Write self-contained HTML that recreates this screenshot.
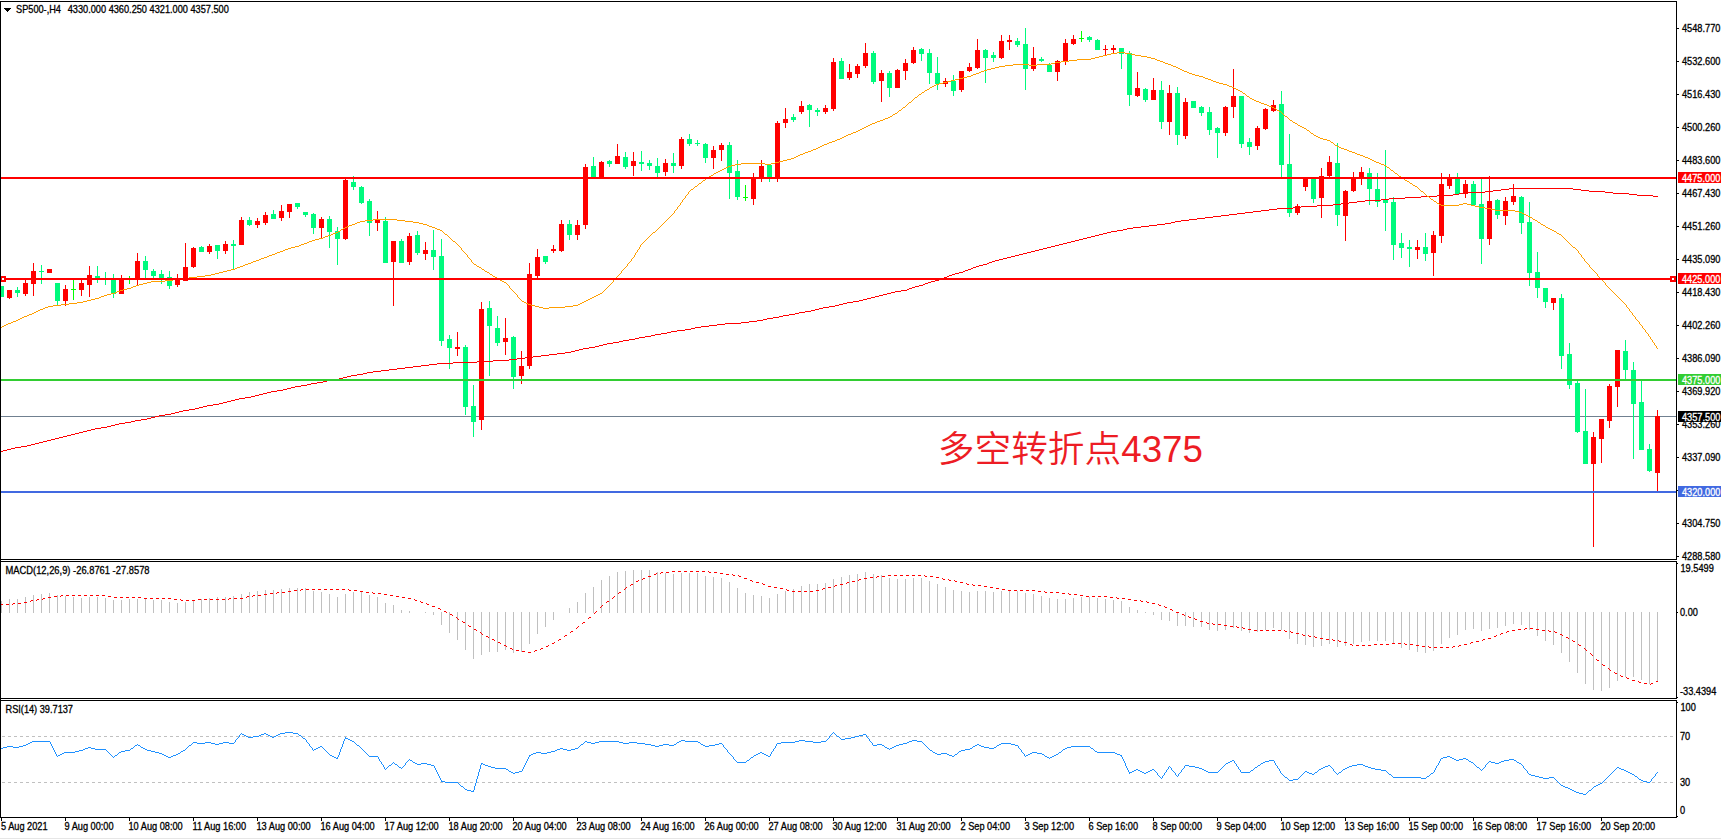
<!DOCTYPE html>
<html lang="zh"><head><meta charset="utf-8"><title>SP500-,H4</title>
<style>html,body{margin:0;padding:0;background:#fff;overflow:hidden}svg{display:block}text{font-family:"Liberation Sans","Noto Sans CJK SC",sans-serif;font-size:10.2px;fill:#000;stroke:#000;stroke-width:.3px}.w{fill:#fff;stroke:#fff}.cn{font-family:"Liberation Sans","Noto Sans CJK SC",sans-serif;font-size:36.7px;font-weight:350;fill:#ed1c24;stroke:none}</style></head><body>
<svg width="1721" height="840" viewBox="0 0 1721 840">
<rect width="1721" height="840" fill="#fff"/>
<g shape-rendering="crispEdges">
<rect x="1" y="416" width="1675" height="1" fill="#708090"/>
<rect x="1" y="286" width="1" height="11" fill="#00fa7d"/>
<rect x="1" y="286" width="3" height="11" fill="#00fa7d"/>
<rect x="9" y="290" width="1" height="9" fill="#ff0000"/>
<rect x="7" y="290" width="5" height="8" fill="#ff0000"/>
<rect x="17" y="287" width="1" height="10" fill="#00fa7d"/>
<rect x="15" y="290" width="5" height="3" fill="#00fa7d"/>
<rect x="25" y="280" width="1" height="16" fill="#ff0000"/>
<rect x="23" y="283" width="5" height="11" fill="#ff0000"/>
<rect x="33" y="263" width="1" height="33" fill="#ff0000"/>
<rect x="31" y="271" width="5" height="13" fill="#ff0000"/>
<rect x="41" y="265" width="1" height="19" fill="#00fa7d"/>
<rect x="39" y="271" width="5" height="1" fill="#00fa7d"/>
<rect x="49" y="269" width="1" height="4" fill="#ff0000"/>
<rect x="47" y="269" width="5" height="4" fill="#ff0000"/>
<rect x="57" y="283" width="1" height="22" fill="#00fa7d"/>
<rect x="55" y="283" width="5" height="18" fill="#00fa7d"/>
<rect x="65" y="285" width="1" height="21" fill="#ff0000"/>
<rect x="63" y="289" width="5" height="12" fill="#ff0000"/>
<rect x="73" y="280" width="1" height="20" fill="#00ff00"/>
<rect x="71" y="289" width="5" height="1" fill="#00ff00"/>
<rect x="81" y="280" width="1" height="16" fill="#ff0000"/>
<rect x="79" y="283" width="5" height="7" fill="#ff0000"/>
<rect x="89" y="266" width="1" height="31" fill="#ff0000"/>
<rect x="87" y="275" width="5" height="10" fill="#ff0000"/>
<rect x="97" y="266" width="1" height="17" fill="#00fa7d"/>
<rect x="95" y="276" width="5" height="4" fill="#00fa7d"/>
<rect x="105" y="272" width="1" height="13" fill="#00fa7d"/>
<rect x="103" y="278" width="5" height="1" fill="#00fa7d"/>
<rect x="113" y="274" width="1" height="24" fill="#00fa7d"/>
<rect x="111" y="278" width="5" height="16" fill="#00fa7d"/>
<rect x="121" y="275" width="1" height="19" fill="#ff0000"/>
<rect x="119" y="278" width="5" height="16" fill="#ff0000"/>
<rect x="129" y="276" width="1" height="8" fill="#00ff00"/>
<rect x="127" y="279" width="5" height="1" fill="#00ff00"/>
<rect x="137" y="253" width="1" height="32" fill="#ff0000"/>
<rect x="135" y="261" width="5" height="19" fill="#ff0000"/>
<rect x="145" y="256" width="1" height="22" fill="#00fa7d"/>
<rect x="143" y="261" width="5" height="9" fill="#00fa7d"/>
<rect x="153" y="269" width="1" height="9" fill="#00fa7d"/>
<rect x="151" y="271" width="5" height="5" fill="#00fa7d"/>
<rect x="161" y="270" width="1" height="14" fill="#00fa7d"/>
<rect x="159" y="274" width="5" height="4" fill="#00fa7d"/>
<rect x="169" y="271" width="1" height="18" fill="#00fa7d"/>
<rect x="167" y="277" width="5" height="9" fill="#00fa7d"/>
<rect x="177" y="274" width="1" height="13" fill="#ff0000"/>
<rect x="175" y="280" width="5" height="5" fill="#ff0000"/>
<rect x="185" y="243" width="1" height="38" fill="#ff0000"/>
<rect x="183" y="267" width="5" height="14" fill="#ff0000"/>
<rect x="193" y="247" width="1" height="21" fill="#ff0000"/>
<rect x="191" y="248" width="5" height="19" fill="#ff0000"/>
<rect x="201" y="246" width="1" height="6" fill="#00fa7d"/>
<rect x="199" y="247" width="5" height="5" fill="#00fa7d"/>
<rect x="209" y="244" width="1" height="10" fill="#ff0000"/>
<rect x="207" y="246" width="5" height="6" fill="#ff0000"/>
<rect x="217" y="245" width="1" height="14" fill="#00fa7d"/>
<rect x="215" y="245" width="5" height="6" fill="#00fa7d"/>
<rect x="225" y="241" width="1" height="13" fill="#ff0000"/>
<rect x="223" y="244" width="5" height="7" fill="#ff0000"/>
<rect x="233" y="240" width="1" height="29" fill="#00fa7d"/>
<rect x="231" y="244" width="5" height="2" fill="#00fa7d"/>
<rect x="241" y="217" width="1" height="28" fill="#ff0000"/>
<rect x="239" y="220" width="5" height="25" fill="#ff0000"/>
<rect x="249" y="217" width="1" height="9" fill="#00fa7d"/>
<rect x="247" y="220" width="5" height="5" fill="#00fa7d"/>
<rect x="257" y="218" width="1" height="10" fill="#ff0000"/>
<rect x="255" y="221" width="5" height="4" fill="#ff0000"/>
<rect x="265" y="212" width="1" height="13" fill="#ff0000"/>
<rect x="263" y="215" width="5" height="8" fill="#ff0000"/>
<rect x="273" y="210" width="1" height="9" fill="#00fa7d"/>
<rect x="271" y="214" width="5" height="5" fill="#00fa7d"/>
<rect x="281" y="205" width="1" height="16" fill="#ff0000"/>
<rect x="279" y="211" width="5" height="7" fill="#ff0000"/>
<rect x="289" y="204" width="1" height="14" fill="#ff0000"/>
<rect x="287" y="204" width="5" height="8" fill="#ff0000"/>
<rect x="297" y="203" width="1" height="6" fill="#00fa7d"/>
<rect x="295" y="203" width="5" height="4" fill="#00fa7d"/>
<rect x="305" y="212" width="1" height="5" fill="#00fa7d"/>
<rect x="303" y="212" width="5" height="3" fill="#00fa7d"/>
<rect x="313" y="213" width="1" height="21" fill="#00fa7d"/>
<rect x="311" y="214" width="5" height="14" fill="#00fa7d"/>
<rect x="321" y="217" width="1" height="22" fill="#ff0000"/>
<rect x="319" y="219" width="5" height="9" fill="#ff0000"/>
<rect x="329" y="216" width="1" height="32" fill="#00fa7d"/>
<rect x="327" y="219" width="5" height="13" fill="#00fa7d"/>
<rect x="337" y="227" width="1" height="38" fill="#00fa7d"/>
<rect x="335" y="231" width="5" height="8" fill="#00fa7d"/>
<rect x="345" y="179" width="1" height="61" fill="#ff0000"/>
<rect x="343" y="180" width="5" height="59" fill="#ff0000"/>
<rect x="353" y="176" width="1" height="14" fill="#00fa7d"/>
<rect x="351" y="182" width="5" height="5" fill="#00fa7d"/>
<rect x="361" y="186" width="1" height="18" fill="#00fa7d"/>
<rect x="359" y="187" width="5" height="16" fill="#00fa7d"/>
<rect x="369" y="199" width="1" height="37" fill="#00fa7d"/>
<rect x="367" y="201" width="5" height="22" fill="#00fa7d"/>
<rect x="377" y="211" width="1" height="20" fill="#ff0000"/>
<rect x="375" y="220" width="5" height="3" fill="#ff0000"/>
<rect x="385" y="217" width="1" height="46" fill="#00fa7d"/>
<rect x="383" y="221" width="5" height="42" fill="#00fa7d"/>
<rect x="393" y="241" width="1" height="65" fill="#ff0000"/>
<rect x="391" y="241" width="5" height="21" fill="#ff0000"/>
<rect x="401" y="239" width="1" height="24" fill="#00fa7d"/>
<rect x="399" y="241" width="5" height="22" fill="#00fa7d"/>
<rect x="409" y="233" width="1" height="32" fill="#ff0000"/>
<rect x="407" y="236" width="5" height="26" fill="#ff0000"/>
<rect x="417" y="231" width="1" height="24" fill="#00fa7d"/>
<rect x="415" y="235" width="5" height="18" fill="#00fa7d"/>
<rect x="425" y="242" width="1" height="18" fill="#ff0000"/>
<rect x="423" y="250" width="5" height="4" fill="#ff0000"/>
<rect x="433" y="230" width="1" height="40" fill="#00fa7d"/>
<rect x="431" y="250" width="5" height="7" fill="#00fa7d"/>
<rect x="441" y="239" width="1" height="107" fill="#00fa7d"/>
<rect x="439" y="256" width="5" height="85" fill="#00fa7d"/>
<rect x="449" y="335" width="1" height="34" fill="#00fa7d"/>
<rect x="447" y="339" width="5" height="9" fill="#00fa7d"/>
<rect x="457" y="332" width="1" height="24" fill="#ff0000"/>
<rect x="455" y="347" width="5" height="2" fill="#ff0000"/>
<rect x="465" y="345" width="1" height="70" fill="#00fa7d"/>
<rect x="463" y="347" width="5" height="60" fill="#00fa7d"/>
<rect x="473" y="385" width="1" height="52" fill="#00fa7d"/>
<rect x="471" y="406" width="5" height="16" fill="#00fa7d"/>
<rect x="481" y="302" width="1" height="128" fill="#ff0000"/>
<rect x="479" y="309" width="5" height="111" fill="#ff0000"/>
<rect x="489" y="301" width="1" height="75" fill="#00fa7d"/>
<rect x="487" y="308" width="5" height="18" fill="#00fa7d"/>
<rect x="497" y="316" width="1" height="30" fill="#00fa7d"/>
<rect x="495" y="328" width="5" height="15" fill="#00fa7d"/>
<rect x="505" y="318" width="1" height="37" fill="#ff0000"/>
<rect x="503" y="338" width="5" height="4" fill="#ff0000"/>
<rect x="513" y="336" width="1" height="53" fill="#00fa7d"/>
<rect x="511" y="337" width="5" height="40" fill="#00fa7d"/>
<rect x="521" y="351" width="1" height="33" fill="#ff0000"/>
<rect x="519" y="366" width="5" height="10" fill="#ff0000"/>
<rect x="529" y="263" width="1" height="106" fill="#ff0000"/>
<rect x="527" y="274" width="5" height="92" fill="#ff0000"/>
<rect x="537" y="249" width="1" height="29" fill="#ff0000"/>
<rect x="535" y="257" width="5" height="19" fill="#ff0000"/>
<rect x="545" y="256" width="1" height="8" fill="#00fa7d"/>
<rect x="543" y="256" width="5" height="6" fill="#00fa7d"/>
<rect x="553" y="245" width="1" height="8" fill="#ff0000"/>
<rect x="551" y="249" width="5" height="2" fill="#ff0000"/>
<rect x="561" y="220" width="1" height="32" fill="#ff0000"/>
<rect x="559" y="224" width="5" height="27" fill="#ff0000"/>
<rect x="569" y="220" width="1" height="20" fill="#00fa7d"/>
<rect x="567" y="224" width="5" height="11" fill="#00fa7d"/>
<rect x="577" y="220" width="1" height="20" fill="#ff0000"/>
<rect x="575" y="225" width="5" height="10" fill="#ff0000"/>
<rect x="585" y="164" width="1" height="65" fill="#ff0000"/>
<rect x="583" y="167" width="5" height="58" fill="#ff0000"/>
<rect x="593" y="157" width="1" height="20" fill="#00fa7d"/>
<rect x="591" y="166" width="5" height="11" fill="#00fa7d"/>
<rect x="601" y="161" width="1" height="17" fill="#ff0000"/>
<rect x="599" y="162" width="5" height="15" fill="#ff0000"/>
<rect x="609" y="160" width="1" height="7" fill="#00fa7d"/>
<rect x="607" y="161" width="5" height="3" fill="#00fa7d"/>
<rect x="617" y="144" width="1" height="20" fill="#ff0000"/>
<rect x="615" y="156" width="5" height="8" fill="#ff0000"/>
<rect x="625" y="152" width="1" height="17" fill="#00fa7d"/>
<rect x="623" y="157" width="5" height="10" fill="#00fa7d"/>
<rect x="633" y="152" width="1" height="24" fill="#ff0000"/>
<rect x="631" y="161" width="5" height="5" fill="#ff0000"/>
<rect x="641" y="151" width="1" height="20" fill="#00fa7d"/>
<rect x="639" y="162" width="5" height="2" fill="#00fa7d"/>
<rect x="649" y="160" width="1" height="10" fill="#00fa7d"/>
<rect x="647" y="163" width="5" height="3" fill="#00fa7d"/>
<rect x="657" y="158" width="1" height="19" fill="#00fa7d"/>
<rect x="655" y="166" width="5" height="7" fill="#00fa7d"/>
<rect x="665" y="159" width="1" height="17" fill="#ff0000"/>
<rect x="663" y="163" width="5" height="9" fill="#ff0000"/>
<rect x="673" y="153" width="1" height="20" fill="#00fa7d"/>
<rect x="671" y="163" width="5" height="3" fill="#00fa7d"/>
<rect x="681" y="137" width="1" height="32" fill="#ff0000"/>
<rect x="679" y="139" width="5" height="27" fill="#ff0000"/>
<rect x="689" y="134" width="1" height="12" fill="#00fa7d"/>
<rect x="687" y="139" width="5" height="5" fill="#00fa7d"/>
<rect x="697" y="140" width="1" height="6" fill="#00fa7d"/>
<rect x="695" y="143" width="5" height="1" fill="#00fa7d"/>
<rect x="705" y="143" width="1" height="20" fill="#00fa7d"/>
<rect x="703" y="144" width="5" height="14" fill="#00fa7d"/>
<rect x="713" y="146" width="1" height="23" fill="#ff0000"/>
<rect x="711" y="150" width="5" height="8" fill="#ff0000"/>
<rect x="721" y="143" width="1" height="18" fill="#ff0000"/>
<rect x="719" y="145" width="5" height="5" fill="#ff0000"/>
<rect x="729" y="142" width="1" height="57" fill="#00fa7d"/>
<rect x="727" y="145" width="5" height="28" fill="#00fa7d"/>
<rect x="737" y="160" width="1" height="40" fill="#00fa7d"/>
<rect x="735" y="171" width="5" height="26" fill="#00fa7d"/>
<rect x="745" y="185" width="1" height="16" fill="#00ff00"/>
<rect x="743" y="197" width="5" height="1" fill="#00ff00"/>
<rect x="753" y="173" width="1" height="32" fill="#ff0000"/>
<rect x="751" y="179" width="5" height="20" fill="#ff0000"/>
<rect x="761" y="160" width="1" height="22" fill="#ff0000"/>
<rect x="759" y="166" width="5" height="11" fill="#ff0000"/>
<rect x="769" y="164" width="1" height="18" fill="#00fa7d"/>
<rect x="767" y="165" width="5" height="12" fill="#00fa7d"/>
<rect x="777" y="121" width="1" height="61" fill="#ff0000"/>
<rect x="775" y="123" width="5" height="54" fill="#ff0000"/>
<rect x="785" y="108" width="1" height="20" fill="#ff0000"/>
<rect x="783" y="119" width="5" height="4" fill="#ff0000"/>
<rect x="793" y="114" width="1" height="8" fill="#00fa7d"/>
<rect x="791" y="117" width="5" height="3" fill="#00fa7d"/>
<rect x="801" y="101" width="1" height="13" fill="#ff0000"/>
<rect x="799" y="106" width="5" height="6" fill="#ff0000"/>
<rect x="809" y="104" width="1" height="23" fill="#00fa7d"/>
<rect x="807" y="105" width="5" height="5" fill="#00fa7d"/>
<rect x="817" y="108" width="1" height="8" fill="#00fa7d"/>
<rect x="815" y="110" width="5" height="2" fill="#00fa7d"/>
<rect x="825" y="105" width="1" height="9" fill="#ff0000"/>
<rect x="823" y="108" width="5" height="4" fill="#ff0000"/>
<rect x="833" y="58" width="1" height="53" fill="#ff0000"/>
<rect x="831" y="62" width="5" height="47" fill="#ff0000"/>
<rect x="841" y="58" width="1" height="21" fill="#00fa7d"/>
<rect x="839" y="61" width="5" height="18" fill="#00fa7d"/>
<rect x="849" y="64" width="1" height="16" fill="#ff0000"/>
<rect x="847" y="72" width="5" height="6" fill="#ff0000"/>
<rect x="857" y="64" width="1" height="14" fill="#ff0000"/>
<rect x="855" y="66" width="5" height="8" fill="#ff0000"/>
<rect x="865" y="43" width="1" height="25" fill="#ff0000"/>
<rect x="863" y="53" width="5" height="13" fill="#ff0000"/>
<rect x="873" y="51" width="1" height="33" fill="#00fa7d"/>
<rect x="871" y="53" width="5" height="29" fill="#00fa7d"/>
<rect x="881" y="70" width="1" height="32" fill="#ff0000"/>
<rect x="879" y="73" width="5" height="8" fill="#ff0000"/>
<rect x="889" y="71" width="1" height="26" fill="#00fa7d"/>
<rect x="887" y="73" width="5" height="15" fill="#00fa7d"/>
<rect x="897" y="69" width="1" height="19" fill="#ff0000"/>
<rect x="895" y="70" width="5" height="18" fill="#ff0000"/>
<rect x="905" y="59" width="1" height="21" fill="#ff0000"/>
<rect x="903" y="63" width="5" height="8" fill="#ff0000"/>
<rect x="913" y="47" width="1" height="17" fill="#ff0000"/>
<rect x="911" y="50" width="5" height="13" fill="#ff0000"/>
<rect x="921" y="48" width="1" height="13" fill="#00fa7d"/>
<rect x="919" y="49" width="5" height="5" fill="#00fa7d"/>
<rect x="929" y="49" width="1" height="35" fill="#00fa7d"/>
<rect x="927" y="53" width="5" height="20" fill="#00fa7d"/>
<rect x="937" y="57" width="1" height="33" fill="#00fa7d"/>
<rect x="935" y="73" width="5" height="11" fill="#00fa7d"/>
<rect x="945" y="78" width="1" height="9" fill="#ff0000"/>
<rect x="943" y="81" width="5" height="3" fill="#ff0000"/>
<rect x="953" y="75" width="1" height="21" fill="#00fa7d"/>
<rect x="951" y="81" width="5" height="10" fill="#00fa7d"/>
<rect x="961" y="71" width="1" height="21" fill="#ff0000"/>
<rect x="959" y="71" width="5" height="19" fill="#ff0000"/>
<rect x="969" y="63" width="1" height="9" fill="#ff0000"/>
<rect x="967" y="67" width="5" height="4" fill="#ff0000"/>
<rect x="977" y="39" width="1" height="30" fill="#ff0000"/>
<rect x="975" y="50" width="5" height="18" fill="#ff0000"/>
<rect x="985" y="49" width="1" height="34" fill="#00fa7d"/>
<rect x="983" y="50" width="5" height="8" fill="#00fa7d"/>
<rect x="993" y="52" width="1" height="10" fill="#00fa7d"/>
<rect x="991" y="55" width="5" height="3" fill="#00fa7d"/>
<rect x="1001" y="35" width="1" height="24" fill="#ff0000"/>
<rect x="999" y="41" width="5" height="17" fill="#ff0000"/>
<rect x="1009" y="35" width="1" height="15" fill="#ff0000"/>
<rect x="1007" y="40" width="5" height="2" fill="#ff0000"/>
<rect x="1017" y="38" width="1" height="9" fill="#00fa7d"/>
<rect x="1015" y="41" width="5" height="4" fill="#00fa7d"/>
<rect x="1025" y="28" width="1" height="62" fill="#00fa7d"/>
<rect x="1023" y="44" width="5" height="25" fill="#00fa7d"/>
<rect x="1033" y="47" width="1" height="24" fill="#ff0000"/>
<rect x="1031" y="58" width="5" height="11" fill="#ff0000"/>
<rect x="1041" y="57" width="1" height="5" fill="#00fa7d"/>
<rect x="1039" y="59" width="5" height="2" fill="#00fa7d"/>
<rect x="1049" y="63" width="1" height="9" fill="#00fa7d"/>
<rect x="1047" y="65" width="5" height="7" fill="#00fa7d"/>
<rect x="1057" y="60" width="1" height="21" fill="#ff0000"/>
<rect x="1055" y="61" width="5" height="11" fill="#ff0000"/>
<rect x="1065" y="39" width="1" height="26" fill="#ff0000"/>
<rect x="1063" y="43" width="5" height="18" fill="#ff0000"/>
<rect x="1073" y="35" width="1" height="10" fill="#ff0000"/>
<rect x="1071" y="39" width="5" height="5" fill="#ff0000"/>
<rect x="1081" y="31" width="1" height="11" fill="#00ff00"/>
<rect x="1079" y="38" width="5" height="1" fill="#00ff00"/>
<rect x="1089" y="36" width="1" height="6" fill="#00fa7d"/>
<rect x="1087" y="37" width="5" height="3" fill="#00fa7d"/>
<rect x="1097" y="39" width="1" height="11" fill="#00fa7d"/>
<rect x="1095" y="40" width="5" height="10" fill="#00fa7d"/>
<rect x="1105" y="45" width="1" height="10" fill="#ff0000"/>
<rect x="1103" y="49" width="5" height="1" fill="#ff0000"/>
<rect x="1113" y="45" width="1" height="9" fill="#ff0000"/>
<rect x="1111" y="48" width="5" height="2" fill="#ff0000"/>
<rect x="1121" y="48" width="1" height="21" fill="#00fa7d"/>
<rect x="1119" y="48" width="5" height="6" fill="#00fa7d"/>
<rect x="1129" y="51" width="1" height="55" fill="#00fa7d"/>
<rect x="1127" y="53" width="5" height="42" fill="#00fa7d"/>
<rect x="1137" y="72" width="1" height="25" fill="#ff0000"/>
<rect x="1135" y="88" width="5" height="8" fill="#ff0000"/>
<rect x="1145" y="88" width="1" height="14" fill="#00fa7d"/>
<rect x="1143" y="89" width="5" height="11" fill="#00fa7d"/>
<rect x="1153" y="78" width="1" height="22" fill="#ff0000"/>
<rect x="1151" y="90" width="5" height="10" fill="#ff0000"/>
<rect x="1161" y="81" width="1" height="48" fill="#00fa7d"/>
<rect x="1159" y="90" width="5" height="32" fill="#00fa7d"/>
<rect x="1169" y="85" width="1" height="50" fill="#ff0000"/>
<rect x="1167" y="93" width="5" height="29" fill="#ff0000"/>
<rect x="1177" y="87" width="1" height="58" fill="#00fa7d"/>
<rect x="1175" y="93" width="5" height="42" fill="#00fa7d"/>
<rect x="1185" y="98" width="1" height="41" fill="#ff0000"/>
<rect x="1183" y="102" width="5" height="34" fill="#ff0000"/>
<rect x="1193" y="101" width="1" height="7" fill="#00fa7d"/>
<rect x="1191" y="101" width="5" height="7" fill="#00fa7d"/>
<rect x="1201" y="106" width="1" height="10" fill="#00fa7d"/>
<rect x="1199" y="107" width="5" height="6" fill="#00fa7d"/>
<rect x="1209" y="107" width="1" height="28" fill="#00fa7d"/>
<rect x="1207" y="112" width="5" height="18" fill="#00fa7d"/>
<rect x="1217" y="127" width="1" height="31" fill="#00fa7d"/>
<rect x="1215" y="128" width="5" height="5" fill="#00fa7d"/>
<rect x="1225" y="106" width="1" height="30" fill="#ff0000"/>
<rect x="1223" y="107" width="5" height="26" fill="#ff0000"/>
<rect x="1233" y="69" width="1" height="49" fill="#ff0000"/>
<rect x="1231" y="96" width="5" height="11" fill="#ff0000"/>
<rect x="1241" y="96" width="1" height="52" fill="#00fa7d"/>
<rect x="1239" y="96" width="5" height="48" fill="#00fa7d"/>
<rect x="1249" y="138" width="1" height="17" fill="#00fa7d"/>
<rect x="1247" y="142" width="5" height="5" fill="#00fa7d"/>
<rect x="1257" y="126" width="1" height="24" fill="#ff0000"/>
<rect x="1255" y="128" width="5" height="18" fill="#ff0000"/>
<rect x="1265" y="108" width="1" height="22" fill="#ff0000"/>
<rect x="1263" y="109" width="5" height="20" fill="#ff0000"/>
<rect x="1273" y="100" width="1" height="12" fill="#ff0000"/>
<rect x="1271" y="105" width="5" height="6" fill="#ff0000"/>
<rect x="1281" y="91" width="1" height="87" fill="#00fa7d"/>
<rect x="1279" y="104" width="5" height="61" fill="#00fa7d"/>
<rect x="1289" y="134" width="1" height="83" fill="#00fa7d"/>
<rect x="1287" y="164" width="5" height="49" fill="#00fa7d"/>
<rect x="1297" y="204" width="1" height="11" fill="#ff0000"/>
<rect x="1295" y="206" width="5" height="7" fill="#ff0000"/>
<rect x="1305" y="177" width="1" height="14" fill="#ff0000"/>
<rect x="1303" y="177" width="5" height="10" fill="#ff0000"/>
<rect x="1313" y="178" width="1" height="25" fill="#00fa7d"/>
<rect x="1311" y="178" width="5" height="21" fill="#00fa7d"/>
<rect x="1321" y="168" width="1" height="50" fill="#ff0000"/>
<rect x="1319" y="176" width="5" height="22" fill="#ff0000"/>
<rect x="1329" y="156" width="1" height="21" fill="#ff0000"/>
<rect x="1327" y="162" width="5" height="14" fill="#ff0000"/>
<rect x="1337" y="143" width="1" height="83" fill="#00fa7d"/>
<rect x="1335" y="163" width="5" height="52" fill="#00fa7d"/>
<rect x="1345" y="190" width="1" height="51" fill="#ff0000"/>
<rect x="1343" y="191" width="5" height="25" fill="#ff0000"/>
<rect x="1353" y="172" width="1" height="20" fill="#ff0000"/>
<rect x="1351" y="178" width="5" height="13" fill="#ff0000"/>
<rect x="1361" y="167" width="1" height="18" fill="#ff0000"/>
<rect x="1359" y="172" width="5" height="5" fill="#ff0000"/>
<rect x="1369" y="168" width="1" height="37" fill="#00fa7d"/>
<rect x="1367" y="173" width="5" height="16" fill="#00fa7d"/>
<rect x="1377" y="173" width="1" height="34" fill="#00fa7d"/>
<rect x="1375" y="189" width="5" height="13" fill="#00fa7d"/>
<rect x="1385" y="150" width="1" height="81" fill="#00fa7d"/>
<rect x="1383" y="199" width="5" height="4" fill="#00fa7d"/>
<rect x="1393" y="197" width="1" height="63" fill="#00fa7d"/>
<rect x="1391" y="202" width="5" height="43" fill="#00fa7d"/>
<rect x="1401" y="233" width="1" height="25" fill="#00fa7d"/>
<rect x="1399" y="243" width="5" height="5" fill="#00fa7d"/>
<rect x="1409" y="240" width="1" height="27" fill="#00fa7d"/>
<rect x="1407" y="247" width="5" height="2" fill="#00fa7d"/>
<rect x="1417" y="240" width="1" height="19" fill="#ff0000"/>
<rect x="1415" y="247" width="5" height="3" fill="#ff0000"/>
<rect x="1425" y="233" width="1" height="28" fill="#00fa7d"/>
<rect x="1423" y="247" width="5" height="7" fill="#00fa7d"/>
<rect x="1433" y="231" width="1" height="45" fill="#ff0000"/>
<rect x="1431" y="235" width="5" height="18" fill="#ff0000"/>
<rect x="1441" y="173" width="1" height="70" fill="#ff0000"/>
<rect x="1439" y="184" width="5" height="52" fill="#ff0000"/>
<rect x="1449" y="174" width="1" height="15" fill="#ff0000"/>
<rect x="1447" y="178" width="5" height="8" fill="#ff0000"/>
<rect x="1457" y="173" width="1" height="21" fill="#00fa7d"/>
<rect x="1455" y="178" width="5" height="16" fill="#00fa7d"/>
<rect x="1465" y="180" width="1" height="18" fill="#ff0000"/>
<rect x="1463" y="184" width="5" height="10" fill="#ff0000"/>
<rect x="1473" y="181" width="1" height="24" fill="#00fa7d"/>
<rect x="1471" y="184" width="5" height="21" fill="#00fa7d"/>
<rect x="1481" y="178" width="1" height="86" fill="#00fa7d"/>
<rect x="1479" y="204" width="5" height="35" fill="#00fa7d"/>
<rect x="1489" y="176" width="1" height="69" fill="#ff0000"/>
<rect x="1487" y="201" width="5" height="38" fill="#ff0000"/>
<rect x="1497" y="199" width="1" height="20" fill="#00fa7d"/>
<rect x="1495" y="200" width="5" height="15" fill="#00fa7d"/>
<rect x="1505" y="197" width="1" height="28" fill="#ff0000"/>
<rect x="1503" y="201" width="5" height="15" fill="#ff0000"/>
<rect x="1513" y="184" width="1" height="21" fill="#ff0000"/>
<rect x="1511" y="196" width="5" height="6" fill="#ff0000"/>
<rect x="1521" y="196" width="1" height="38" fill="#00fa7d"/>
<rect x="1519" y="197" width="5" height="26" fill="#00fa7d"/>
<rect x="1529" y="202" width="1" height="84" fill="#00fa7d"/>
<rect x="1527" y="222" width="5" height="51" fill="#00fa7d"/>
<rect x="1537" y="252" width="1" height="46" fill="#00fa7d"/>
<rect x="1535" y="272" width="5" height="16" fill="#00fa7d"/>
<rect x="1545" y="288" width="1" height="20" fill="#00fa7d"/>
<rect x="1543" y="288" width="5" height="14" fill="#00fa7d"/>
<rect x="1553" y="298" width="1" height="12" fill="#ff0000"/>
<rect x="1551" y="298" width="5" height="5" fill="#ff0000"/>
<rect x="1561" y="294" width="1" height="75" fill="#00fa7d"/>
<rect x="1559" y="298" width="5" height="58" fill="#00fa7d"/>
<rect x="1569" y="343" width="1" height="46" fill="#00fa7d"/>
<rect x="1567" y="354" width="5" height="31" fill="#00fa7d"/>
<rect x="1577" y="381" width="1" height="52" fill="#00fa7d"/>
<rect x="1575" y="383" width="5" height="49" fill="#00fa7d"/>
<rect x="1585" y="389" width="1" height="75" fill="#00fa7d"/>
<rect x="1583" y="431" width="5" height="33" fill="#00fa7d"/>
<rect x="1593" y="432" width="1" height="115" fill="#ff0000"/>
<rect x="1591" y="437" width="5" height="27" fill="#ff0000"/>
<rect x="1601" y="419" width="1" height="44" fill="#ff0000"/>
<rect x="1599" y="419" width="5" height="20" fill="#ff0000"/>
<rect x="1609" y="384" width="1" height="44" fill="#ff0000"/>
<rect x="1607" y="386" width="5" height="35" fill="#ff0000"/>
<rect x="1617" y="350" width="1" height="57" fill="#ff0000"/>
<rect x="1615" y="350" width="5" height="37" fill="#ff0000"/>
<rect x="1625" y="340" width="1" height="39" fill="#00fa7d"/>
<rect x="1623" y="351" width="5" height="19" fill="#00fa7d"/>
<rect x="1633" y="362" width="1" height="97" fill="#00fa7d"/>
<rect x="1631" y="370" width="5" height="34" fill="#00fa7d"/>
<rect x="1641" y="380" width="1" height="70" fill="#00fa7d"/>
<rect x="1639" y="402" width="5" height="48" fill="#00fa7d"/>
<rect x="1649" y="444" width="1" height="28" fill="#00fa7d"/>
<rect x="1647" y="449" width="5" height="22" fill="#00fa7d"/>
<rect x="1657" y="410" width="1" height="81" fill="#ff0000"/>
<rect x="1655" y="416" width="5" height="57" fill="#ff0000"/>
<path d="M1509 188.5h64M1501 189.5h8M1573 189.5h8M1493 190.5h8M1581 190.5h8M1485 191.5h8M1589 191.5h16M1463 192.5h22M1605 192.5h8M1459 193.5h4M1613 193.5h16M1453 194.5h6M1629 194.5h8M1437 195.5h16M1637 195.5h16M1421 196.5h16M1653 196.5h5M1405 197.5h16M1389 198.5h16M1381 199.5h8M1365 200.5h16M1357 201.5h8M1349 202.5h8M1341 203.5h8M1333 204.5h8M1317 205.5h16M1301 206.5h16M1293 207.5h8M1277 208.5h16M1269 209.5h8M1261 210.5h8M1253 211.5h8M1245 212.5h8M1237 213.5h8M1229 214.5h8M1221 215.5h8M1213 216.5h8M1205 217.5h8M1197 218.5h8M1189 219.5h8M1181 220.5h8M1175 221.5h6M1171 222.5h4M1165 223.5h6M1157 224.5h8M1149 225.5h8M1141 226.5h8M1133 227.5h8M1127 228.5h6M1123 229.5h4M1117 230.5h6M1111 231.5h6M1107 232.5h4M1103 233.5h4M1099 234.5h4M1095 235.5h4M1091 236.5h4M1087 237.5h4M1083 238.5h4M1079 239.5h4M1075 240.5h4M1071 241.5h4M1067 242.5h4M1063 243.5h4M1059 244.5h4M1055 245.5h4M1051 246.5h4M1047 247.5h4M1043 248.5h4M1039 249.5h4M1035 250.5h4M1031 251.5h4M1027 252.5h4M1023 253.5h4M1019 254.5h4M1015 255.5h4M1011 256.5h4M1007 257.5h4M1003 258.5h4M999 259.5h4M995 260.5h4M992 261.5h3M989 262.5h3M987 263.5h2M983 264.5h4M979 265.5h4M976 266.5h3M973 267.5h3M971 268.5h2M968 269.5h3M965 270.5h3M963 271.5h2M959 272.5h4M955 273.5h4M952 274.5h3M949 275.5h3M947 276.5h2M944 277.5h3M941 278.5h3M939 279.5h2M935 280.5h4M931 281.5h4M928 282.5h3M925 283.5h3M923 284.5h2M919 285.5h4M915 286.5h4M912 287.5h3M909 288.5h3M907 289.5h2M901 290.5h6M895 291.5h6M891 292.5h4M887 293.5h4M883 294.5h4M879 295.5h4M875 296.5h4M871 297.5h4M867 298.5h4M863 299.5h4M859 300.5h4M853 301.5h6M847 302.5h6M843 303.5h4M839 304.5h4M835 305.5h4M829 306.5h6M823 307.5h6M819 308.5h4M815 309.5h4M811 310.5h4M805 311.5h6M799 312.5h6M795 313.5h4M789 314.5h6M783 315.5h6M779 316.5h4M773 317.5h6M767 318.5h6M763 319.5h4M757 320.5h6M749 321.5h8M741 322.5h8M725 323.5h16M717 324.5h8M709 325.5h8M701 326.5h8M695 327.5h6M691 328.5h4M685 329.5h6M677 330.5h8M671 331.5h6M667 332.5h4M661 333.5h6M655 334.5h6M651 335.5h4M645 336.5h6M639 337.5h6M635 338.5h4M629 339.5h6M623 340.5h6M619 341.5h4M613 342.5h6M607 343.5h6M603 344.5h4M599 345.5h4M595 346.5h4M589 347.5h6M583 348.5h6M579 349.5h4M575 350.5h4M571 351.5h4M565 352.5h6M557 353.5h8M549 354.5h8M541 355.5h8M533 356.5h8M525 357.5h8M517 358.5h8M509 359.5h8M493 360.5h16M477 361.5h16M453 362.5h24M437 363.5h16M429 364.5h8M421 365.5h8M413 366.5h8M405 367.5h8M397 368.5h8M389 369.5h8M381 370.5h8M373 371.5h8M367 372.5h6M363 373.5h4M357 374.5h6M351 375.5h6M347 376.5h4M343 377.5h4M339 378.5h4M333 379.5h6M327 380.5h6M323 381.5h4M317 382.5h6M311 383.5h6M307 384.5h4M301 385.5h6M295 386.5h6M291 387.5h4M287 388.5h4M283 389.5h4M277 390.5h6M271 391.5h6M267 392.5h4M263 393.5h4M259 394.5h4M255 395.5h4M251 396.5h4M245 397.5h6M239 398.5h6M235 399.5h4M231 400.5h4M227 401.5h4M223 402.5h4M219 403.5h4M213 404.5h6M207 405.5h6M203 406.5h4M199 407.5h4M195 408.5h4M189 409.5h6M183 410.5h6M179 411.5h4M175 412.5h4M171 413.5h4M165 414.5h6M159 415.5h6M155 416.5h4M151 417.5h4M147 418.5h4M141 419.5h6M135 420.5h6M131 421.5h4M125 422.5h6M119 423.5h6M115 424.5h4M111 425.5h4M107 426.5h4M101 427.5h6M95 428.5h6M91 429.5h4M87 430.5h4M83 431.5h4M79 432.5h4M75 433.5h4M71 434.5h4M67 435.5h4M63 436.5h4M59 437.5h4M55 438.5h4M51 439.5h4M47 440.5h4M43 441.5h4M39 442.5h4M35 443.5h4M31 444.5h4M27 445.5h4M21 446.5h6M15 447.5h6M11 448.5h4M7 449.5h4M3 450.5h4M1 451.5h2" fill="none" stroke="#ff0000" stroke-width="1"/>
<path d="M1117 52.5h8M1111 53.5h6M1125 53.5h6M1107 54.5h4M1131 54.5h4M1103 55.5h4M1135 55.5h6M1099 56.5h4M1141 56.5h6M1095 57.5h4M1147 57.5h4M1091 58.5h4M1151 58.5h4M1077 59.5h14M1155 59.5h2M1069 60.5h8M1157 60.5h3M1061 61.5h8M1160 61.5h3M1055 62.5h6M1163 62.5h2M1051 63.5h4M1165 63.5h3M1013 64.5h16M1037 64.5h14M1168 64.5h3M1005 65.5h8M1029 65.5h8M1171 65.5h2M999 66.5h6M1173 66.5h3M995 67.5h4M1176 67.5h2M991 68.5h4M1178 68.5h2M987 69.5h4M1180 69.5h2M984 70.5h3M1182 70.5h2M981 71.5h3M1184 71.5h3M979 72.5h2M1187 72.5h2M976 73.5h3M1189 73.5h3M973 74.5h3M1192 74.5h3M971 75.5h2M1195 75.5h4M967 76.5h4M1199 76.5h4M963 77.5h4M1203 77.5h2M959 78.5h4M1205 78.5h3M955 79.5h4M1208 79.5h3M951 80.5h4M1211 80.5h2M947 81.5h4M1213 81.5h3M943 82.5h4M1216 82.5h3M939 83.5h4M1219 83.5h4M936 84.5h3M1223 84.5h4M934 85.5h2M1227 85.5h2M932 86.5h2M1229 86.5h3M930 87.5h2M1232 87.5h2M929 88.5h1M1234 88.5h2M927 89.5h2M1236 89.5h2M925 90.5h2M1238 90.5h2M924 91.5h1M1240 91.5h2M922 92.5h2M1242 92.5h1M921 93.5h1M1243 93.5h2M919 94.5h2M1245 94.5h1M918 95.5h1M1246 95.5h1M917 96.5h1M1247 96.5h2M915 97.5h2M1249 97.5h1M914 98.5h1M1250 98.5h2M913 99.5h1M1252 99.5h2M912 100.5h1M1254 100.5h2M911 101.5h1M1256 101.5h3M909 102.5h2M1259 102.5h2M908 103.5h1M1261 103.5h3M907 104.5h1M1264 104.5h3M906 105.5h1M1267 105.5h2M905 106.5h1M1269 106.5h3M903 107.5h2M1272 107.5h2M902 108.5h1M1274 108.5h2M901 109.5h1M1276 109.5h1M899 110.5h2M1277 110.5h2M898 111.5h1M1279 111.5h2M897 112.5h1M1281 112.5h1M895 113.5h2M1282 113.5h1M893 114.5h2M1283 114.5h1M892 115.5h1M1284 115.5h1M890 116.5h2M1285 116.5h2M888 117.5h2M1287 117.5h1M885 118.5h3M1288 118.5h1M883 119.5h2M1289 119.5h1M880 120.5h3M1290 120.5h2M877 121.5h3M1292 121.5h1M875 122.5h2M1293 122.5h2M872 123.5h3M1295 123.5h2M870 124.5h2M1297 124.5h1M868 125.5h2M1298 125.5h2M866 126.5h2M1300 126.5h2M864 127.5h2M1302 127.5h2M862 128.5h2M1304 128.5h2M860 129.5h2M1306 129.5h1M858 130.5h2M1307 130.5h2M856 131.5h2M1309 131.5h1M853 132.5h3M1310 132.5h1M851 133.5h2M1311 133.5h2M848 134.5h3M1313 134.5h1M846 135.5h2M1314 135.5h2M844 136.5h2M1316 136.5h2M842 137.5h2M1318 137.5h2M840 138.5h2M1320 138.5h3M837 139.5h3M1323 139.5h4M835 140.5h2M1327 140.5h3M832 141.5h3M1330 141.5h1M829 142.5h3M1331 142.5h2M827 143.5h2M1333 143.5h1M824 144.5h3M1334 144.5h1M822 145.5h2M1335 145.5h2M820 146.5h2M1337 146.5h2M818 147.5h2M1339 147.5h2M816 148.5h2M1341 148.5h3M813 149.5h3M1344 149.5h3M811 150.5h2M1347 150.5h2M808 151.5h3M1349 151.5h3M805 152.5h3M1352 152.5h3M803 153.5h2M1355 153.5h2M800 154.5h3M1357 154.5h3M798 155.5h2M1360 155.5h3M796 156.5h2M1363 156.5h2M794 157.5h2M1365 157.5h3M791 158.5h3M1368 158.5h2M787 159.5h4M1370 159.5h2M783 160.5h4M1372 160.5h2M779 161.5h4M1374 161.5h2M775 162.5h4M1376 162.5h3M741 163.5h24M771 163.5h4M1379 163.5h2M735 164.5h6M765 164.5h6M1381 164.5h3M731 165.5h4M1384 165.5h2M728 166.5h3M1386 166.5h1M726 167.5h2M1387 167.5h2M724 168.5h2M1389 168.5h1M722 169.5h2M1390 169.5h1M720 170.5h2M1391 170.5h2M718 171.5h2M1393 171.5h1M716 172.5h2M1394 172.5h1M714 173.5h2M1395 173.5h2M713 174.5h1M1397 174.5h1M711 175.5h2M1398 175.5h1M709 176.5h2M1399 176.5h2M708 177.5h1M1401 177.5h1M706 178.5h2M1402 178.5h2M705 179.5h1M1404 179.5h1M703 180.5h2M1405 180.5h2M702 181.5h1M1407 181.5h2M701 182.5h1M1409 182.5h1M699 183.5h2M1410 183.5h2M698 184.5h1M1412 184.5h1M697 185.5h1M1413 185.5h2M695 186.5h2M1415 186.5h2M694 187.5h1M1417 187.5h1M693 188.5h1M1418 188.5h1M691 189.5h2M1419 189.5h1M690 190.5h1M1420 190.5h1M689 191.5h1M1421 191.5h2M688 192.5h1M1423 192.5h1M688 193.5h1M1424 193.5h1M687 194.5h1M1425 194.5h1M686 195.5h1M1426 195.5h1M685 196.5h1M1427 196.5h2M685 197.5h1M1429 197.5h1M684 198.5h1M1430 198.5h1M683 199.5h1M1431 199.5h2M682 200.5h1M1433 200.5h1M682 201.5h1M1434 201.5h2M681 202.5h1M1436 202.5h1M680 203.5h1M1437 203.5h2M1463 203.5h4M680 204.5h1M1439 204.5h2M1459 204.5h4M1467 204.5h4M679 205.5h1M1441 205.5h18M1471 205.5h4M678 206.5h1M1475 206.5h4M677 207.5h1M1479 207.5h6M677 208.5h1M1485 208.5h6M676 209.5h1M1491 209.5h4M675 210.5h1M1495 210.5h20M674 211.5h1M1515 211.5h4M674 212.5h1M1519 212.5h3M673 213.5h1M1522 213.5h2M672 214.5h1M1524 214.5h2M671 215.5h1M1526 215.5h2M670 216.5h1M1528 216.5h2M669 217.5h1M1530 217.5h2M668 218.5h1M1532 218.5h1M373 219.5h24M667 219.5h1M1533 219.5h2M365 220.5h8M397 220.5h8M666 220.5h1M1535 220.5h2M360 221.5h5M405 221.5h8M665 221.5h1M1537 221.5h1M357 222.5h3M413 222.5h6M664 222.5h1M1538 222.5h2M355 223.5h2M419 223.5h4M663 223.5h1M1540 223.5h1M352 224.5h3M423 224.5h4M662 224.5h1M1541 224.5h2M349 225.5h3M427 225.5h2M661 225.5h1M1543 225.5h2M347 226.5h2M429 226.5h3M660 226.5h1M1545 226.5h1M345 227.5h2M432 227.5h3M659 227.5h1M1546 227.5h2M343 228.5h2M435 228.5h2M658 228.5h1M1548 228.5h2M341 229.5h2M437 229.5h3M657 229.5h1M1550 229.5h2M340 230.5h1M440 230.5h2M656 230.5h1M1552 230.5h2M338 231.5h2M442 231.5h1M655 231.5h1M1554 231.5h2M336 232.5h2M443 232.5h1M653 232.5h2M1556 232.5h1M333 233.5h3M444 233.5h1M652 233.5h1M1557 233.5h2M331 234.5h2M445 234.5h2M651 234.5h1M1559 234.5h2M328 235.5h3M447 235.5h1M650 235.5h1M1561 235.5h1M325 236.5h3M448 236.5h1M649 236.5h1M1562 236.5h1M323 237.5h2M449 237.5h1M648 237.5h1M1563 237.5h1M319 238.5h4M450 238.5h1M647 238.5h1M1564 238.5h1M315 239.5h4M451 239.5h1M646 239.5h1M1565 239.5h1M312 240.5h3M452 240.5h1M645 240.5h1M1566 240.5h1M309 241.5h3M453 241.5h2M644 241.5h1M1567 241.5h1M307 242.5h2M455 242.5h1M643 242.5h1M1568 242.5h1M304 243.5h3M456 243.5h1M642 243.5h1M1569 243.5h1M301 244.5h3M457 244.5h1M641 244.5h1M1570 244.5h1M299 245.5h2M458 245.5h1M640 245.5h1M1571 245.5h1M295 246.5h4M459 246.5h1M640 246.5h1M1572 246.5h1M291 247.5h4M460 247.5h1M639 247.5h1M1573 247.5h2M288 248.5h3M461 248.5h1M639 248.5h1M1575 248.5h1M285 249.5h3M461 249.5h1M638 249.5h1M1576 249.5h1M283 250.5h2M462 250.5h1M637 250.5h1M1577 250.5h1M280 251.5h3M463 251.5h1M637 251.5h1M1578 251.5h1M277 252.5h3M464 252.5h1M636 252.5h1M1578 252.5h1M275 253.5h2M465 253.5h1M635 253.5h1M1579 253.5h1M272 254.5h3M466 254.5h1M635 254.5h1M1580 254.5h1M269 255.5h3M467 255.5h1M634 255.5h1M1581 255.5h1M267 256.5h2M467 256.5h1M634 256.5h1M1581 256.5h1M264 257.5h3M468 257.5h1M633 257.5h1M1582 257.5h1M261 258.5h3M469 258.5h1M632 258.5h1M1583 258.5h1M259 259.5h2M470 259.5h1M631 259.5h1M1584 259.5h1M256 260.5h3M471 260.5h1M631 260.5h1M1584 260.5h1M253 261.5h3M471 261.5h1M630 261.5h1M1585 261.5h1M251 262.5h2M472 262.5h1M629 262.5h1M1586 262.5h1M248 263.5h3M473 263.5h1M628 263.5h1M1587 263.5h1M245 264.5h3M474 264.5h2M627 264.5h1M1588 264.5h1M243 265.5h2M476 265.5h1M627 265.5h1M1589 265.5h1M240 266.5h3M477 266.5h2M626 266.5h1M1589 266.5h1M237 267.5h3M479 267.5h2M625 267.5h1M1590 267.5h1M235 268.5h2M481 268.5h1M624 268.5h1M1591 268.5h1M231 269.5h4M482 269.5h2M623 269.5h1M1592 269.5h1M227 270.5h4M484 270.5h1M622 270.5h1M1593 270.5h1M223 271.5h4M485 271.5h2M621 271.5h1M1594 271.5h1M219 272.5h4M487 272.5h2M621 272.5h1M1595 272.5h1M215 273.5h4M489 273.5h1M620 273.5h1M1596 273.5h1M211 274.5h4M490 274.5h2M619 274.5h1M1597 274.5h1M205 275.5h6M492 275.5h1M618 275.5h1M1597 275.5h1M197 276.5h8M493 276.5h2M617 276.5h1M1598 276.5h1M189 277.5h8M495 277.5h2M616 277.5h1M1599 277.5h1M181 278.5h8M497 278.5h1M615 278.5h1M1600 278.5h1M173 279.5h8M498 279.5h2M614 279.5h1M1601 279.5h1M165 280.5h8M500 280.5h2M613 280.5h1M1602 280.5h1M151 281.5h14M502 281.5h2M613 281.5h1M1603 281.5h1M147 282.5h4M504 282.5h2M612 282.5h1M1604 282.5h1M143 283.5h4M506 283.5h1M611 283.5h1M1605 283.5h1M139 284.5h4M507 284.5h1M610 284.5h1M1605 284.5h1M136 285.5h3M508 285.5h1M609 285.5h1M1606 285.5h1M133 286.5h3M509 286.5h1M608 286.5h1M1607 286.5h1M131 287.5h2M509 287.5h1M607 287.5h1M1608 287.5h1M127 288.5h4M510 288.5h1M606 288.5h1M1609 288.5h1M123 289.5h4M511 289.5h1M605 289.5h1M1610 289.5h1M120 290.5h3M512 290.5h1M604 290.5h1M1611 290.5h1M117 291.5h3M513 291.5h1M603 291.5h1M1612 291.5h1M115 292.5h2M514 292.5h1M602 292.5h1M1613 292.5h1M111 293.5h4M515 293.5h1M600 293.5h2M1614 293.5h1M107 294.5h4M516 294.5h1M598 294.5h2M1615 294.5h1M104 295.5h3M517 295.5h1M596 295.5h2M1616 295.5h1M101 296.5h3M517 296.5h1M594 296.5h2M1617 296.5h1M99 297.5h2M518 297.5h1M592 297.5h2M1618 297.5h1M95 298.5h4M519 298.5h1M590 298.5h2M1619 298.5h1M91 299.5h4M520 299.5h1M588 299.5h2M1620 299.5h1M87 300.5h4M521 300.5h1M586 300.5h2M1621 300.5h1M83 301.5h4M522 301.5h2M584 301.5h2M1622 301.5h1M77 302.5h6M524 302.5h2M582 302.5h2M1623 302.5h1M69 303.5h8M526 303.5h2M580 303.5h2M1624 303.5h1M61 304.5h8M528 304.5h3M578 304.5h2M1625 304.5h1M53 305.5h8M531 305.5h4M573 305.5h5M1626 305.5h1M48 306.5h5M535 306.5h4M565 306.5h8M1626 306.5h1M45 307.5h3M539 307.5h4M549 307.5h16M1627 307.5h1M43 308.5h2M543 308.5h6M1628 308.5h1M40 309.5h3M1629 309.5h1M38 310.5h2M1629 310.5h1M36 311.5h2M1630 311.5h1M34 312.5h2M1631 312.5h1M32 313.5h2M1632 313.5h1M29 314.5h3M1632 314.5h1M27 315.5h2M1633 315.5h1M24 316.5h3M1634 316.5h1M22 317.5h2M1635 317.5h1M20 318.5h2M1635 318.5h1M18 319.5h2M1636 319.5h1M16 320.5h2M1637 320.5h1M13 321.5h3M1638 321.5h1M11 322.5h2M1639 322.5h1M8 323.5h3M1639 323.5h1M6 324.5h2M1640 324.5h1M4 325.5h2M1641 325.5h1M2 326.5h2M1642 326.5h1M1 327.5h1M1642 327.5h1M1643 328.5h1M1644 329.5h1M1645 330.5h1M1645 331.5h1M1646 332.5h1M1647 333.5h1M1648 334.5h1M1648 335.5h1M1649 336.5h1M1650 337.5h1M1650 338.5h1M1651 339.5h1M1652 340.5h1M1652 341.5h1M1653 342.5h1M1654 343.5h1M1654 344.5h1M1655 345.5h1M1656 346.5h1M1656 347.5h1M1657 348.5h1" fill="none" stroke="#ff9e00" stroke-width="1"/>
<rect x="1" y="177" width="1675" height="2" fill="#ff0000"/>
<rect x="1" y="278" width="1675" height="2" fill="#ff0000"/>
<rect x="1" y="379" width="1675" height="2" fill="#32cd32"/>
<rect x="1" y="491" width="1675" height="2" fill="#4169e1"/>
<rect x="0" y="276" width="6" height="6" fill="#ff0000"/><rect x="2" y="278" width="2" height="2" fill="#fff"/>
<rect x="1670" y="276" width="6" height="6" fill="#ff0000"/><rect x="1672" y="278" width="2" height="2" fill="#fff"/>
<rect x="1" y="601" width="1" height="12" fill="#c0c0c0"/>
<rect x="9" y="599" width="1" height="14" fill="#c0c0c0"/>
<rect x="17" y="599" width="1" height="14" fill="#c0c0c0"/>
<rect x="25" y="597" width="1" height="16" fill="#c0c0c0"/>
<rect x="33" y="595" width="1" height="18" fill="#c0c0c0"/>
<rect x="41" y="594" width="1" height="19" fill="#c0c0c0"/>
<rect x="49" y="593" width="1" height="20" fill="#c0c0c0"/>
<rect x="57" y="595" width="1" height="18" fill="#c0c0c0"/>
<rect x="65" y="596" width="1" height="17" fill="#c0c0c0"/>
<rect x="73" y="597" width="1" height="16" fill="#c0c0c0"/>
<rect x="81" y="598" width="1" height="15" fill="#c0c0c0"/>
<rect x="89" y="597" width="1" height="16" fill="#c0c0c0"/>
<rect x="97" y="597" width="1" height="16" fill="#c0c0c0"/>
<rect x="105" y="598" width="1" height="15" fill="#c0c0c0"/>
<rect x="113" y="600" width="1" height="13" fill="#c0c0c0"/>
<rect x="121" y="600" width="1" height="13" fill="#c0c0c0"/>
<rect x="129" y="599" width="1" height="14" fill="#c0c0c0"/>
<rect x="137" y="599" width="1" height="14" fill="#c0c0c0"/>
<rect x="145" y="599" width="1" height="14" fill="#c0c0c0"/>
<rect x="153" y="600" width="1" height="13" fill="#c0c0c0"/>
<rect x="161" y="600" width="1" height="13" fill="#c0c0c0"/>
<rect x="169" y="602" width="1" height="11" fill="#c0c0c0"/>
<rect x="177" y="603" width="1" height="10" fill="#c0c0c0"/>
<rect x="185" y="602" width="1" height="11" fill="#c0c0c0"/>
<rect x="193" y="600" width="1" height="13" fill="#c0c0c0"/>
<rect x="201" y="599" width="1" height="14" fill="#c0c0c0"/>
<rect x="209" y="598" width="1" height="15" fill="#c0c0c0"/>
<rect x="217" y="597" width="1" height="16" fill="#c0c0c0"/>
<rect x="225" y="597" width="1" height="16" fill="#c0c0c0"/>
<rect x="233" y="596" width="1" height="17" fill="#c0c0c0"/>
<rect x="241" y="594" width="1" height="19" fill="#c0c0c0"/>
<rect x="249" y="592" width="1" height="21" fill="#c0c0c0"/>
<rect x="257" y="591" width="1" height="22" fill="#c0c0c0"/>
<rect x="265" y="590" width="1" height="23" fill="#c0c0c0"/>
<rect x="273" y="590" width="1" height="23" fill="#c0c0c0"/>
<rect x="281" y="589" width="1" height="24" fill="#c0c0c0"/>
<rect x="289" y="588" width="1" height="25" fill="#c0c0c0"/>
<rect x="297" y="588" width="1" height="25" fill="#c0c0c0"/>
<rect x="305" y="588" width="1" height="25" fill="#c0c0c0"/>
<rect x="313" y="591" width="1" height="22" fill="#c0c0c0"/>
<rect x="321" y="592" width="1" height="21" fill="#c0c0c0"/>
<rect x="329" y="594" width="1" height="19" fill="#c0c0c0"/>
<rect x="337" y="597" width="1" height="16" fill="#c0c0c0"/>
<rect x="345" y="594" width="1" height="19" fill="#c0c0c0"/>
<rect x="353" y="592" width="1" height="21" fill="#c0c0c0"/>
<rect x="361" y="591" width="1" height="22" fill="#c0c0c0"/>
<rect x="369" y="595" width="1" height="18" fill="#c0c0c0"/>
<rect x="377" y="597" width="1" height="16" fill="#c0c0c0"/>
<rect x="385" y="603" width="1" height="10" fill="#c0c0c0"/>
<rect x="393" y="605" width="1" height="8" fill="#c0c0c0"/>
<rect x="401" y="610" width="1" height="3" fill="#c0c0c0"/>
<rect x="409" y="611" width="1" height="2" fill="#c0c0c0"/>
<rect x="425" y="612" width="1" height="1" fill="#c0c0c0"/>
<rect x="433" y="612" width="1" height="3" fill="#c0c0c0"/>
<rect x="441" y="612" width="1" height="13" fill="#c0c0c0"/>
<rect x="449" y="612" width="1" height="21" fill="#c0c0c0"/>
<rect x="457" y="612" width="1" height="28" fill="#c0c0c0"/>
<rect x="465" y="612" width="1" height="38" fill="#c0c0c0"/>
<rect x="473" y="612" width="1" height="47" fill="#c0c0c0"/>
<rect x="481" y="612" width="1" height="43" fill="#c0c0c0"/>
<rect x="489" y="612" width="1" height="40" fill="#c0c0c0"/>
<rect x="497" y="612" width="1" height="40" fill="#c0c0c0"/>
<rect x="505" y="612" width="1" height="38" fill="#c0c0c0"/>
<rect x="513" y="612" width="1" height="41" fill="#c0c0c0"/>
<rect x="521" y="612" width="1" height="40" fill="#c0c0c0"/>
<rect x="529" y="612" width="1" height="32" fill="#c0c0c0"/>
<rect x="537" y="612" width="1" height="22" fill="#c0c0c0"/>
<rect x="545" y="612" width="1" height="15" fill="#c0c0c0"/>
<rect x="553" y="612" width="1" height="8" fill="#c0c0c0"/>
<rect x="569" y="608" width="1" height="5" fill="#c0c0c0"/>
<rect x="577" y="602" width="1" height="11" fill="#c0c0c0"/>
<rect x="585" y="593" width="1" height="20" fill="#c0c0c0"/>
<rect x="593" y="587" width="1" height="26" fill="#c0c0c0"/>
<rect x="601" y="580" width="1" height="33" fill="#c0c0c0"/>
<rect x="609" y="576" width="1" height="37" fill="#c0c0c0"/>
<rect x="617" y="572" width="1" height="41" fill="#c0c0c0"/>
<rect x="625" y="571" width="1" height="42" fill="#c0c0c0"/>
<rect x="633" y="570" width="1" height="43" fill="#c0c0c0"/>
<rect x="641" y="570" width="1" height="43" fill="#c0c0c0"/>
<rect x="649" y="570" width="1" height="43" fill="#c0c0c0"/>
<rect x="657" y="572" width="1" height="41" fill="#c0c0c0"/>
<rect x="665" y="573" width="1" height="40" fill="#c0c0c0"/>
<rect x="673" y="574" width="1" height="39" fill="#c0c0c0"/>
<rect x="681" y="573" width="1" height="40" fill="#c0c0c0"/>
<rect x="689" y="573" width="1" height="40" fill="#c0c0c0"/>
<rect x="697" y="573" width="1" height="40" fill="#c0c0c0"/>
<rect x="705" y="576" width="1" height="37" fill="#c0c0c0"/>
<rect x="713" y="577" width="1" height="36" fill="#c0c0c0"/>
<rect x="721" y="578" width="1" height="35" fill="#c0c0c0"/>
<rect x="729" y="582" width="1" height="31" fill="#c0c0c0"/>
<rect x="737" y="588" width="1" height="25" fill="#c0c0c0"/>
<rect x="745" y="593" width="1" height="20" fill="#c0c0c0"/>
<rect x="753" y="595" width="1" height="18" fill="#c0c0c0"/>
<rect x="761" y="596" width="1" height="17" fill="#c0c0c0"/>
<rect x="769" y="598" width="1" height="15" fill="#c0c0c0"/>
<rect x="777" y="594" width="1" height="19" fill="#c0c0c0"/>
<rect x="785" y="591" width="1" height="22" fill="#c0c0c0"/>
<rect x="793" y="589" width="1" height="24" fill="#c0c0c0"/>
<rect x="801" y="586" width="1" height="27" fill="#c0c0c0"/>
<rect x="809" y="584" width="1" height="29" fill="#c0c0c0"/>
<rect x="817" y="584" width="1" height="29" fill="#c0c0c0"/>
<rect x="825" y="583" width="1" height="30" fill="#c0c0c0"/>
<rect x="833" y="579" width="1" height="34" fill="#c0c0c0"/>
<rect x="841" y="577" width="1" height="36" fill="#c0c0c0"/>
<rect x="849" y="575" width="1" height="38" fill="#c0c0c0"/>
<rect x="857" y="574" width="1" height="39" fill="#c0c0c0"/>
<rect x="865" y="572" width="1" height="41" fill="#c0c0c0"/>
<rect x="873" y="574" width="1" height="39" fill="#c0c0c0"/>
<rect x="881" y="575" width="1" height="38" fill="#c0c0c0"/>
<rect x="889" y="578" width="1" height="35" fill="#c0c0c0"/>
<rect x="897" y="579" width="1" height="34" fill="#c0c0c0"/>
<rect x="905" y="579" width="1" height="34" fill="#c0c0c0"/>
<rect x="913" y="578" width="1" height="35" fill="#c0c0c0"/>
<rect x="921" y="578" width="1" height="35" fill="#c0c0c0"/>
<rect x="929" y="581" width="1" height="32" fill="#c0c0c0"/>
<rect x="937" y="584" width="1" height="29" fill="#c0c0c0"/>
<rect x="945" y="587" width="1" height="26" fill="#c0c0c0"/>
<rect x="953" y="590" width="1" height="23" fill="#c0c0c0"/>
<rect x="961" y="591" width="1" height="22" fill="#c0c0c0"/>
<rect x="969" y="592" width="1" height="21" fill="#c0c0c0"/>
<rect x="977" y="591" width="1" height="22" fill="#c0c0c0"/>
<rect x="985" y="591" width="1" height="22" fill="#c0c0c0"/>
<rect x="993" y="592" width="1" height="21" fill="#c0c0c0"/>
<rect x="1001" y="591" width="1" height="22" fill="#c0c0c0"/>
<rect x="1009" y="590" width="1" height="23" fill="#c0c0c0"/>
<rect x="1017" y="591" width="1" height="22" fill="#c0c0c0"/>
<rect x="1025" y="593" width="1" height="20" fill="#c0c0c0"/>
<rect x="1033" y="594" width="1" height="19" fill="#c0c0c0"/>
<rect x="1041" y="596" width="1" height="17" fill="#c0c0c0"/>
<rect x="1049" y="598" width="1" height="15" fill="#c0c0c0"/>
<rect x="1057" y="599" width="1" height="14" fill="#c0c0c0"/>
<rect x="1065" y="599" width="1" height="14" fill="#c0c0c0"/>
<rect x="1073" y="598" width="1" height="15" fill="#c0c0c0"/>
<rect x="1081" y="597" width="1" height="16" fill="#c0c0c0"/>
<rect x="1089" y="597" width="1" height="16" fill="#c0c0c0"/>
<rect x="1097" y="598" width="1" height="15" fill="#c0c0c0"/>
<rect x="1105" y="599" width="1" height="14" fill="#c0c0c0"/>
<rect x="1113" y="600" width="1" height="13" fill="#c0c0c0"/>
<rect x="1121" y="601" width="1" height="12" fill="#c0c0c0"/>
<rect x="1129" y="607" width="1" height="6" fill="#c0c0c0"/>
<rect x="1137" y="610" width="1" height="3" fill="#c0c0c0"/>
<rect x="1145" y="612" width="1" height="1" fill="#c0c0c0"/>
<rect x="1153" y="612" width="1" height="3" fill="#c0c0c0"/>
<rect x="1161" y="612" width="1" height="8" fill="#c0c0c0"/>
<rect x="1169" y="612" width="1" height="9" fill="#c0c0c0"/>
<rect x="1177" y="612" width="1" height="14" fill="#c0c0c0"/>
<rect x="1185" y="612" width="1" height="14" fill="#c0c0c0"/>
<rect x="1193" y="612" width="1" height="15" fill="#c0c0c0"/>
<rect x="1201" y="612" width="1" height="15" fill="#c0c0c0"/>
<rect x="1209" y="612" width="1" height="18" fill="#c0c0c0"/>
<rect x="1217" y="612" width="1" height="19" fill="#c0c0c0"/>
<rect x="1225" y="612" width="1" height="18" fill="#c0c0c0"/>
<rect x="1233" y="612" width="1" height="16" fill="#c0c0c0"/>
<rect x="1241" y="612" width="1" height="19" fill="#c0c0c0"/>
<rect x="1249" y="612" width="1" height="21" fill="#c0c0c0"/>
<rect x="1257" y="612" width="1" height="20" fill="#c0c0c0"/>
<rect x="1265" y="612" width="1" height="18" fill="#c0c0c0"/>
<rect x="1273" y="612" width="1" height="16" fill="#c0c0c0"/>
<rect x="1281" y="612" width="1" height="18" fill="#c0c0c0"/>
<rect x="1289" y="612" width="1" height="27" fill="#c0c0c0"/>
<rect x="1297" y="612" width="1" height="32" fill="#c0c0c0"/>
<rect x="1305" y="612" width="1" height="33" fill="#c0c0c0"/>
<rect x="1313" y="612" width="1" height="35" fill="#c0c0c0"/>
<rect x="1321" y="612" width="1" height="34" fill="#c0c0c0"/>
<rect x="1329" y="612" width="1" height="32" fill="#c0c0c0"/>
<rect x="1337" y="612" width="1" height="35" fill="#c0c0c0"/>
<rect x="1345" y="612" width="1" height="34" fill="#c0c0c0"/>
<rect x="1353" y="612" width="1" height="32" fill="#c0c0c0"/>
<rect x="1361" y="612" width="1" height="30" fill="#c0c0c0"/>
<rect x="1369" y="612" width="1" height="29" fill="#c0c0c0"/>
<rect x="1377" y="612" width="1" height="29" fill="#c0c0c0"/>
<rect x="1385" y="612" width="1" height="29" fill="#c0c0c0"/>
<rect x="1393" y="612" width="1" height="32" fill="#c0c0c0"/>
<rect x="1401" y="612" width="1" height="36" fill="#c0c0c0"/>
<rect x="1409" y="612" width="1" height="38" fill="#c0c0c0"/>
<rect x="1417" y="612" width="1" height="40" fill="#c0c0c0"/>
<rect x="1425" y="612" width="1" height="41" fill="#c0c0c0"/>
<rect x="1433" y="612" width="1" height="39" fill="#c0c0c0"/>
<rect x="1441" y="612" width="1" height="32" fill="#c0c0c0"/>
<rect x="1449" y="612" width="1" height="26" fill="#c0c0c0"/>
<rect x="1457" y="612" width="1" height="23" fill="#c0c0c0"/>
<rect x="1465" y="612" width="1" height="18" fill="#c0c0c0"/>
<rect x="1473" y="612" width="1" height="17" fill="#c0c0c0"/>
<rect x="1481" y="612" width="1" height="19" fill="#c0c0c0"/>
<rect x="1489" y="612" width="1" height="17" fill="#c0c0c0"/>
<rect x="1497" y="612" width="1" height="16" fill="#c0c0c0"/>
<rect x="1505" y="612" width="1" height="14" fill="#c0c0c0"/>
<rect x="1513" y="612" width="1" height="12" fill="#c0c0c0"/>
<rect x="1521" y="612" width="1" height="13" fill="#c0c0c0"/>
<rect x="1529" y="612" width="1" height="18" fill="#c0c0c0"/>
<rect x="1537" y="612" width="1" height="24" fill="#c0c0c0"/>
<rect x="1545" y="612" width="1" height="29" fill="#c0c0c0"/>
<rect x="1553" y="612" width="1" height="33" fill="#c0c0c0"/>
<rect x="1561" y="612" width="1" height="41" fill="#c0c0c0"/>
<rect x="1569" y="612" width="1" height="50" fill="#c0c0c0"/>
<rect x="1577" y="612" width="1" height="61" fill="#c0c0c0"/>
<rect x="1585" y="612" width="1" height="72" fill="#c0c0c0"/>
<rect x="1593" y="612" width="1" height="78" fill="#c0c0c0"/>
<rect x="1601" y="612" width="1" height="79" fill="#c0c0c0"/>
<rect x="1609" y="612" width="1" height="76" fill="#c0c0c0"/>
<rect x="1617" y="612" width="1" height="69" fill="#c0c0c0"/>
<rect x="1625" y="612" width="1" height="65" fill="#c0c0c0"/>
<rect x="1633" y="612" width="1" height="65" fill="#c0c0c0"/>
<rect x="1641" y="612" width="1" height="68" fill="#c0c0c0"/>
<rect x="1649" y="612" width="1" height="72" fill="#c0c0c0"/>
<rect x="1657" y="612" width="1" height="69" fill="#c0c0c0"/>
<path d="M672 571.5h3M678 571.5h3M684 571.5h3M690 571.5h3M696 571.5h3M702 571.5h3M708 571.5h1M661 572.5h2M666 572.5h3M709 572.5h2M714 572.5h3M656 573.5h1M660 573.5h1M720 573.5h3M654 574.5h2M726 574.5h3M732 574.5h1M733 575.5h2M738 575.5h1M888 575.5h3M894 575.5h3M900 575.5h3M906 575.5h3M912 575.5h3M918 575.5h3M924 575.5h1M648 576.5h3M739 576.5h2M877 576.5h2M882 576.5h3M925 576.5h2M930 576.5h3M870 577.5h3M876 577.5h1M936 577.5h3M643 578.5h2M744 578.5h3M864 578.5h3M942 578.5h1M642 579.5h1M859 579.5h2M943 579.5h2M948 579.5h1M638 580.5h1M750 580.5h2M858 580.5h1M949 580.5h2M954 580.5h1M636 581.5h2M752 581.5h1M852 581.5h3M955 581.5h2M756 582.5h3M847 582.5h2M960 582.5h3M762 583.5h1M846 583.5h1M966 583.5h1M631 584.5h2M763 584.5h2M840 584.5h3M967 584.5h2M972 584.5h1M630 585.5h1M835 585.5h2M973 585.5h2M978 585.5h3M768 586.5h3M834 586.5h1M984 586.5h3M626 587.5h1M774 587.5h3M828 587.5h3M990 587.5h3M625 588.5h1M780 588.5h3M823 588.5h2M996 588.5h3M301 589.5h2M306 589.5h3M312 589.5h3M318 589.5h3M324 589.5h3M330 589.5h3M336 589.5h3M342 589.5h3M348 589.5h1M624 589.5h1M786 589.5h1M822 589.5h1M1002 589.5h3M294 590.5h3M300 590.5h1M349 590.5h2M354 590.5h3M787 590.5h2M816 590.5h3M1008 590.5h3M1014 590.5h3M1020 590.5h3M1026 590.5h3M1032 590.5h3M288 591.5h3M360 591.5h3M792 591.5h3M798 591.5h3M804 591.5h3M810 591.5h3M1038 591.5h3M1044 591.5h1M277 592.5h2M282 592.5h3M366 592.5h3M372 592.5h1M619 592.5h2M1045 592.5h2M1050 592.5h3M1056 592.5h3M270 593.5h3M276 593.5h1M373 593.5h2M378 593.5h3M618 593.5h1M1062 593.5h3M1068 593.5h1M264 594.5h3M384 594.5h3M1069 594.5h2M1074 594.5h3M61 595.5h2M66 595.5h3M72 595.5h3M78 595.5h3M84 595.5h3M90 595.5h3M96 595.5h3M102 595.5h3M253 595.5h2M258 595.5h3M390 595.5h3M1080 595.5h3M54 596.5h3M60 596.5h1M108 596.5h3M247 596.5h2M252 596.5h1M396 596.5h3M614 596.5h1M1086 596.5h3M1092 596.5h3M1098 596.5h3M1104 596.5h3M48 597.5h3M114 597.5h3M120 597.5h3M126 597.5h3M132 597.5h3M138 597.5h3M246 597.5h1M402 597.5h3M613 597.5h1M1110 597.5h3M1116 597.5h1M43 598.5h2M144 598.5h3M150 598.5h3M156 598.5h3M162 598.5h3M168 598.5h3M229 598.5h2M234 598.5h3M240 598.5h3M408 598.5h3M612 598.5h1M1117 598.5h2M1122 598.5h3M37 599.5h2M42 599.5h1M174 599.5h3M180 599.5h1M198 599.5h3M204 599.5h3M210 599.5h3M216 599.5h3M222 599.5h3M228 599.5h1M414 599.5h1M1128 599.5h3M31 600.5h2M36 600.5h1M181 600.5h2M186 600.5h3M192 600.5h3M415 600.5h2M1134 600.5h3M1140 600.5h1M30 601.5h1M420 601.5h1M607 601.5h2M1141 601.5h2M1146 601.5h1M24 602.5h3M421 602.5h2M606 602.5h1M1147 602.5h2M13 603.5h2M18 603.5h3M426 603.5h1M1152 603.5h3M1 604.5h2M6 604.5h3M12 604.5h1M427 604.5h2M1158 604.5h1M0 605.5h1M602 605.5h1M1159 605.5h2M432 606.5h3M601 606.5h1M1164 606.5h1M600 607.5h1M1165 607.5h2M438 608.5h2M440 609.5h1M1170 609.5h2M1172 610.5h1M444 611.5h2M596 611.5h1M446 612.5h1M595 612.5h1M1176 612.5h3M594 613.5h1M450 614.5h2M1182 614.5h2M452 615.5h1M1184 615.5h1M1188 616.5h1M456 617.5h1M589 617.5h2M1189 617.5h2M457 618.5h1M588 618.5h1M1194 618.5h1M458 619.5h1M1195 619.5h2M462 621.5h1M1200 621.5h3M463 622.5h2M583 622.5h2M1206 622.5h1M582 623.5h1M1207 623.5h2M1212 623.5h1M1213 624.5h2M1218 624.5h3M468 625.5h1M1224 625.5h3M469 626.5h2M578 626.5h1M1230 626.5h3M1236 626.5h1M577 627.5h1M1237 627.5h2M1242 627.5h1M576 628.5h1M1243 628.5h2M1525 628.5h2M1530 628.5h3M474 629.5h2M1248 629.5h3M1518 629.5h3M1524 629.5h1M1536 629.5h3M476 630.5h1M1254 630.5h3M1260 630.5h3M1266 630.5h3M1272 630.5h3M1278 630.5h3M1284 630.5h1M1512 630.5h3M1542 630.5h3M1548 630.5h1M571 631.5h2M1285 631.5h2M1290 631.5h1M1507 631.5h2M1549 631.5h2M1554 631.5h1M480 632.5h1M570 632.5h1M1291 632.5h2M1506 632.5h1M1555 632.5h2M481 633.5h1M1296 633.5h3M1501 633.5h2M482 634.5h1M1302 634.5h1M1500 634.5h1M1560 634.5h2M565 635.5h2M1303 635.5h2M1308 635.5h1M1496 635.5h1M1562 635.5h1M486 636.5h2M564 636.5h1M1309 636.5h2M1314 636.5h1M1494 636.5h2M488 637.5h1M1315 637.5h2M1566 637.5h2M1320 638.5h3M1488 638.5h3M1568 638.5h1M492 639.5h2M559 639.5h2M1326 639.5h3M1332 639.5h1M1483 639.5h2M494 640.5h1M558 640.5h1M1333 640.5h2M1338 640.5h1M1482 640.5h1M1572 640.5h1M1339 641.5h2M1476 641.5h3M1573 641.5h2M498 642.5h2M554 642.5h1M1344 642.5h3M1471 642.5h2M500 643.5h1M552 643.5h2M1392 643.5h3M1398 643.5h3M1404 643.5h1M1470 643.5h1M1350 644.5h2M1374 644.5h3M1380 644.5h3M1386 644.5h3M1405 644.5h2M1410 644.5h3M1464 644.5h3M1578 644.5h1M504 645.5h2M548 645.5h1M1352 645.5h1M1356 645.5h3M1362 645.5h3M1368 645.5h3M1416 645.5h3M1459 645.5h2M1579 645.5h2M506 646.5h1M546 646.5h2M1422 646.5h3M1428 646.5h1M1453 646.5h2M1458 646.5h1M1429 647.5h2M1434 647.5h3M1440 647.5h3M1446 647.5h3M1452 647.5h1M510 648.5h2M541 648.5h2M1584 648.5h1M512 649.5h1M540 649.5h1M1585 649.5h1M516 650.5h3M535 650.5h2M1586 650.5h1M522 651.5h3M534 651.5h1M528 652.5h3M1590 653.5h1M1591 654.5h1M1592 655.5h1M1596 659.5h1M1597 660.5h2M1602 664.5h1M1603 665.5h2M1608 668.5h1M1609 669.5h1M1610 670.5h1M1614 672.5h1M1615 673.5h2M1620 675.5h1M1621 676.5h2M1626 677.5h1M1627 678.5h2M1632 680.5h3M1638 681.5h1M1656 681.5h2M1639 682.5h2M1644 683.5h3M1651 683.5h2M1650 684.5h1" fill="none" stroke="#ff0000" stroke-width="1"/>
<path d="M2 736.5h3M8 736.5h3M14 736.5h3M20 736.5h3M26 736.5h3M32 736.5h3M38 736.5h3M44 736.5h3M50 736.5h3M56 736.5h3M62 736.5h3M68 736.5h3M74 736.5h3M80 736.5h3M86 736.5h3M92 736.5h3M98 736.5h3M104 736.5h3M110 736.5h3M116 736.5h3M122 736.5h3M128 736.5h3M134 736.5h3M140 736.5h3M146 736.5h3M152 736.5h3M158 736.5h3M164 736.5h3M170 736.5h3M176 736.5h3M182 736.5h3M188 736.5h3M194 736.5h3M200 736.5h3M206 736.5h3M212 736.5h3M218 736.5h3M224 736.5h3M230 736.5h3M236 736.5h3M242 736.5h3M248 736.5h3M254 736.5h3M260 736.5h3M266 736.5h3M272 736.5h3M278 736.5h3M284 736.5h3M290 736.5h3M296 736.5h3M302 736.5h3M308 736.5h3M314 736.5h3M320 736.5h3M326 736.5h3M332 736.5h3M338 736.5h3M344 736.5h3M350 736.5h3M356 736.5h3M362 736.5h3M368 736.5h3M374 736.5h3M380 736.5h3M386 736.5h3M392 736.5h3M398 736.5h3M404 736.5h3M410 736.5h3M416 736.5h3M422 736.5h3M428 736.5h3M434 736.5h3M440 736.5h3M446 736.5h3M452 736.5h3M458 736.5h3M464 736.5h3M470 736.5h3M476 736.5h3M482 736.5h3M488 736.5h3M494 736.5h3M500 736.5h3M506 736.5h3M512 736.5h3M518 736.5h3M524 736.5h3M530 736.5h3M536 736.5h3M542 736.5h3M548 736.5h3M554 736.5h3M560 736.5h3M566 736.5h3M572 736.5h3M578 736.5h3M584 736.5h3M590 736.5h3M596 736.5h3M602 736.5h3M608 736.5h3M614 736.5h3M620 736.5h3M626 736.5h3M632 736.5h3M638 736.5h3M644 736.5h3M650 736.5h3M656 736.5h3M662 736.5h3M668 736.5h3M674 736.5h3M680 736.5h3M686 736.5h3M692 736.5h3M698 736.5h3M704 736.5h3M710 736.5h3M716 736.5h3M722 736.5h3M728 736.5h3M734 736.5h3M740 736.5h3M746 736.5h3M752 736.5h3M758 736.5h3M764 736.5h3M770 736.5h3M776 736.5h3M782 736.5h3M788 736.5h3M794 736.5h3M800 736.5h3M806 736.5h3M812 736.5h3M818 736.5h3M824 736.5h3M830 736.5h3M836 736.5h3M842 736.5h3M848 736.5h3M854 736.5h3M860 736.5h3M866 736.5h3M872 736.5h3M878 736.5h3M884 736.5h3M890 736.5h3M896 736.5h3M902 736.5h3M908 736.5h3M914 736.5h3M920 736.5h3M926 736.5h3M932 736.5h3M938 736.5h3M944 736.5h3M950 736.5h3M956 736.5h3M962 736.5h3M968 736.5h3M974 736.5h3M980 736.5h3M986 736.5h3M992 736.5h3M998 736.5h3M1004 736.5h3M1010 736.5h3M1016 736.5h3M1022 736.5h3M1028 736.5h3M1034 736.5h3M1040 736.5h3M1046 736.5h3M1052 736.5h3M1058 736.5h3M1064 736.5h3M1070 736.5h3M1076 736.5h3M1082 736.5h3M1088 736.5h3M1094 736.5h3M1100 736.5h3M1106 736.5h3M1112 736.5h3M1118 736.5h3M1124 736.5h3M1130 736.5h3M1136 736.5h3M1142 736.5h3M1148 736.5h3M1154 736.5h3M1160 736.5h3M1166 736.5h3M1172 736.5h3M1178 736.5h3M1184 736.5h3M1190 736.5h3M1196 736.5h3M1202 736.5h3M1208 736.5h3M1214 736.5h3M1220 736.5h3M1226 736.5h3M1232 736.5h3M1238 736.5h3M1244 736.5h3M1250 736.5h3M1256 736.5h3M1262 736.5h3M1268 736.5h3M1274 736.5h3M1280 736.5h3M1286 736.5h3M1292 736.5h3M1298 736.5h3M1304 736.5h3M1310 736.5h3M1316 736.5h3M1322 736.5h3M1328 736.5h3M1334 736.5h3M1340 736.5h3M1346 736.5h3M1352 736.5h3M1358 736.5h3M1364 736.5h3M1370 736.5h3M1376 736.5h3M1382 736.5h3M1388 736.5h3M1394 736.5h3M1400 736.5h3M1406 736.5h3M1412 736.5h3M1418 736.5h3M1424 736.5h3M1430 736.5h3M1436 736.5h3M1442 736.5h3M1448 736.5h3M1454 736.5h3M1460 736.5h3M1466 736.5h3M1472 736.5h3M1478 736.5h3M1484 736.5h3M1490 736.5h3M1496 736.5h3M1502 736.5h3M1508 736.5h3M1514 736.5h3M1520 736.5h3M1526 736.5h3M1532 736.5h3M1538 736.5h3M1544 736.5h3M1550 736.5h3M1556 736.5h3M1562 736.5h3M1568 736.5h3M1574 736.5h3M1580 736.5h3M1586 736.5h3M1592 736.5h3M1598 736.5h3M1604 736.5h3M1610 736.5h3M1616 736.5h3M1622 736.5h3M1628 736.5h3M1634 736.5h3M1640 736.5h3M1646 736.5h3M1652 736.5h3M1658 736.5h3M1664 736.5h3M1670 736.5h3" fill="none" stroke="#c0c0c0" stroke-width="1"/>
<path d="M2 782.5h3M8 782.5h3M14 782.5h3M20 782.5h3M26 782.5h3M32 782.5h3M38 782.5h3M44 782.5h3M50 782.5h3M56 782.5h3M62 782.5h3M68 782.5h3M74 782.5h3M80 782.5h3M86 782.5h3M92 782.5h3M98 782.5h3M104 782.5h3M110 782.5h3M116 782.5h3M122 782.5h3M128 782.5h3M134 782.5h3M140 782.5h3M146 782.5h3M152 782.5h3M158 782.5h3M164 782.5h3M170 782.5h3M176 782.5h3M182 782.5h3M188 782.5h3M194 782.5h3M200 782.5h3M206 782.5h3M212 782.5h3M218 782.5h3M224 782.5h3M230 782.5h3M236 782.5h3M242 782.5h3M248 782.5h3M254 782.5h3M260 782.5h3M266 782.5h3M272 782.5h3M278 782.5h3M284 782.5h3M290 782.5h3M296 782.5h3M302 782.5h3M308 782.5h3M314 782.5h3M320 782.5h3M326 782.5h3M332 782.5h3M338 782.5h3M344 782.5h3M350 782.5h3M356 782.5h3M362 782.5h3M368 782.5h3M374 782.5h3M380 782.5h3M386 782.5h3M392 782.5h3M398 782.5h3M404 782.5h3M410 782.5h3M416 782.5h3M422 782.5h3M428 782.5h3M434 782.5h3M440 782.5h3M446 782.5h3M452 782.5h3M458 782.5h3M464 782.5h3M470 782.5h3M476 782.5h3M482 782.5h3M488 782.5h3M494 782.5h3M500 782.5h3M506 782.5h3M512 782.5h3M518 782.5h3M524 782.5h3M530 782.5h3M536 782.5h3M542 782.5h3M548 782.5h3M554 782.5h3M560 782.5h3M566 782.5h3M572 782.5h3M578 782.5h3M584 782.5h3M590 782.5h3M596 782.5h3M602 782.5h3M608 782.5h3M614 782.5h3M620 782.5h3M626 782.5h3M632 782.5h3M638 782.5h3M644 782.5h3M650 782.5h3M656 782.5h3M662 782.5h3M668 782.5h3M674 782.5h3M680 782.5h3M686 782.5h3M692 782.5h3M698 782.5h3M704 782.5h3M710 782.5h3M716 782.5h3M722 782.5h3M728 782.5h3M734 782.5h3M740 782.5h3M746 782.5h3M752 782.5h3M758 782.5h3M764 782.5h3M770 782.5h3M776 782.5h3M782 782.5h3M788 782.5h3M794 782.5h3M800 782.5h3M806 782.5h3M812 782.5h3M818 782.5h3M824 782.5h3M830 782.5h3M836 782.5h3M842 782.5h3M848 782.5h3M854 782.5h3M860 782.5h3M866 782.5h3M872 782.5h3M878 782.5h3M884 782.5h3M890 782.5h3M896 782.5h3M902 782.5h3M908 782.5h3M914 782.5h3M920 782.5h3M926 782.5h3M932 782.5h3M938 782.5h3M944 782.5h3M950 782.5h3M956 782.5h3M962 782.5h3M968 782.5h3M974 782.5h3M980 782.5h3M986 782.5h3M992 782.5h3M998 782.5h3M1004 782.5h3M1010 782.5h3M1016 782.5h3M1022 782.5h3M1028 782.5h3M1034 782.5h3M1040 782.5h3M1046 782.5h3M1052 782.5h3M1058 782.5h3M1064 782.5h3M1070 782.5h3M1076 782.5h3M1082 782.5h3M1088 782.5h3M1094 782.5h3M1100 782.5h3M1106 782.5h3M1112 782.5h3M1118 782.5h3M1124 782.5h3M1130 782.5h3M1136 782.5h3M1142 782.5h3M1148 782.5h3M1154 782.5h3M1160 782.5h3M1166 782.5h3M1172 782.5h3M1178 782.5h3M1184 782.5h3M1190 782.5h3M1196 782.5h3M1202 782.5h3M1208 782.5h3M1214 782.5h3M1220 782.5h3M1226 782.5h3M1232 782.5h3M1238 782.5h3M1244 782.5h3M1250 782.5h3M1256 782.5h3M1262 782.5h3M1268 782.5h3M1274 782.5h3M1280 782.5h3M1286 782.5h3M1292 782.5h3M1298 782.5h3M1304 782.5h3M1310 782.5h3M1316 782.5h3M1322 782.5h3M1328 782.5h3M1334 782.5h3M1340 782.5h3M1346 782.5h3M1352 782.5h3M1358 782.5h3M1364 782.5h3M1370 782.5h3M1376 782.5h3M1382 782.5h3M1388 782.5h3M1394 782.5h3M1400 782.5h3M1406 782.5h3M1412 782.5h3M1418 782.5h3M1424 782.5h3M1430 782.5h3M1436 782.5h3M1442 782.5h3M1448 782.5h3M1454 782.5h3M1460 782.5h3M1466 782.5h3M1472 782.5h3M1478 782.5h3M1484 782.5h3M1490 782.5h3M1496 782.5h3M1502 782.5h3M1508 782.5h3M1514 782.5h3M1520 782.5h3M1526 782.5h3M1532 782.5h3M1538 782.5h3M1544 782.5h3M1550 782.5h3M1556 782.5h3M1562 782.5h3M1568 782.5h3M1574 782.5h3M1580 782.5h3M1586 782.5h3M1592 782.5h3M1598 782.5h3M1604 782.5h3M1610 782.5h3M1616 782.5h3M1622 782.5h3M1628 782.5h3M1634 782.5h3M1640 782.5h3M1646 782.5h3M1652 782.5h3M1658 782.5h3M1664 782.5h3M1670 782.5h3" fill="none" stroke="#c0c0c0" stroke-width="1"/>
<path d="M285 732.5h8M833 732.5h1M241 733.5h1M264 733.5h2M280 733.5h5M293 733.5h5M832 733.5h1M834 733.5h1M240 734.5h1M242 734.5h2M261 734.5h3M266 734.5h2M278 734.5h2M298 734.5h1M831 734.5h1M835 734.5h1M863 734.5h3M239 735.5h1M244 735.5h2M259 735.5h2M268 735.5h2M276 735.5h2M299 735.5h2M830 735.5h1M836 735.5h1M859 735.5h4M866 735.5h1M239 736.5h1M246 736.5h2M253 736.5h6M270 736.5h2M274 736.5h2M301 736.5h1M829 736.5h1M837 736.5h2M855 736.5h4M866 736.5h1M238 737.5h1M248 737.5h5M272 737.5h2M302 737.5h1M345 737.5h1M829 737.5h1M839 737.5h1M851 737.5h4M867 737.5h1M237 738.5h1M303 738.5h2M345 738.5h3M828 738.5h1M840 738.5h1M845 738.5h6M868 738.5h1M236 739.5h1M305 739.5h1M344 739.5h1M348 739.5h2M827 739.5h1M841 739.5h4M869 739.5h1M235 740.5h1M306 740.5h1M344 740.5h1M350 740.5h2M681 740.5h4M799 740.5h6M826 740.5h1M869 740.5h1M912 740.5h5M32 741.5h18M235 741.5h1M306 741.5h1M343 741.5h1M352 741.5h2M585 741.5h2M599 741.5h20M679 741.5h2M685 741.5h13M795 741.5h4M805 741.5h8M821 741.5h5M870 741.5h1M909 741.5h3M917 741.5h5M30 742.5h2M50 742.5h1M193 742.5h4M205 742.5h6M223 742.5h6M234 742.5h1M307 742.5h1M343 742.5h1M354 742.5h1M584 742.5h1M587 742.5h4M595 742.5h4M619 742.5h4M629 742.5h8M677 742.5h2M698 742.5h2M781 742.5h14M813 742.5h8M871 742.5h1M907 742.5h2M922 742.5h1M28 743.5h2M50 743.5h1M192 743.5h1M197 743.5h8M211 743.5h4M219 743.5h4M229 743.5h5M308 743.5h1M343 743.5h1M355 743.5h1M583 743.5h1M591 743.5h4M623 743.5h6M637 743.5h8M676 743.5h1M700 743.5h1M719 743.5h3M777 743.5h4M872 743.5h1M903 743.5h4M923 743.5h1M1001 743.5h10M26 744.5h2M51 744.5h1M137 744.5h1M191 744.5h1M215 744.5h4M309 744.5h1M342 744.5h1M356 744.5h1M581 744.5h2M645 744.5h6M663 744.5h6M674 744.5h2M701 744.5h2M715 744.5h4M722 744.5h1M776 744.5h1M872 744.5h1M877 744.5h5M899 744.5h4M924 744.5h1M977 744.5h2M999 744.5h2M1011 744.5h4M23 745.5h3M51 745.5h1M135 745.5h2M138 745.5h2M189 745.5h2M309 745.5h1M342 745.5h1M357 745.5h2M580 745.5h1M651 745.5h4M659 745.5h4M669 745.5h5M703 745.5h2M709 745.5h6M723 745.5h1M776 745.5h1M873 745.5h4M882 745.5h2M896 745.5h3M925 745.5h1M975 745.5h2M979 745.5h2M997 745.5h2M1015 745.5h3M7 746.5h6M19 746.5h4M52 746.5h1M134 746.5h1M140 746.5h1M188 746.5h1M310 746.5h1M320 746.5h2M342 746.5h1M359 746.5h1M579 746.5h1M655 746.5h4M705 746.5h4M723 746.5h1M775 746.5h1M884 746.5h1M894 746.5h2M926 746.5h1M973 746.5h2M981 746.5h3M996 746.5h1M1018 746.5h1M1071 746.5h19M3 747.5h4M13 747.5h6M52 747.5h1M88 747.5h3M133 747.5h1M141 747.5h2M187 747.5h1M311 747.5h1M318 747.5h2M322 747.5h1M341 747.5h1M360 747.5h1M578 747.5h1M724 747.5h1M775 747.5h1M885 747.5h2M892 747.5h2M927 747.5h1M972 747.5h1M984 747.5h5M994 747.5h2M1018 747.5h1M1067 747.5h4M1090 747.5h1M1 748.5h2M53 748.5h1M85 748.5h3M91 748.5h4M131 748.5h2M143 748.5h2M186 748.5h1M312 748.5h1M316 748.5h2M323 748.5h1M341 748.5h1M361 748.5h1M560 748.5h3M575 748.5h3M725 748.5h1M774 748.5h1M887 748.5h2M890 748.5h2M928 748.5h1M970 748.5h2M989 748.5h5M1019 748.5h1M1065 748.5h2M1091 748.5h2M53 749.5h1M83 749.5h2M95 749.5h11M130 749.5h1M145 749.5h2M185 749.5h1M312 749.5h1M314 749.5h2M324 749.5h1M340 749.5h1M362 749.5h1M557 749.5h3M563 749.5h4M571 749.5h4M726 749.5h1M773 749.5h1M889 749.5h1M929 749.5h1M965 749.5h5M1020 749.5h1M1063 749.5h2M1093 749.5h1M54 750.5h1M79 750.5h4M106 750.5h1M125 750.5h5M147 750.5h4M183 750.5h2M313 750.5h1M325 750.5h1M340 750.5h1M363 750.5h1M555 750.5h2M567 750.5h4M727 750.5h1M773 750.5h1M930 750.5h2M961 750.5h4M1021 750.5h1M1062 750.5h1M1094 750.5h1M54 751.5h1M75 751.5h4M107 751.5h1M121 751.5h4M151 751.5h4M181 751.5h2M326 751.5h1M340 751.5h1M364 751.5h1M551 751.5h4M727 751.5h1M772 751.5h1M932 751.5h1M959 751.5h2M1021 751.5h1M1061 751.5h1M1095 751.5h2M55 752.5h1M64 752.5h11M108 752.5h1M119 752.5h2M155 752.5h4M180 752.5h1M327 752.5h1M339 752.5h1M365 752.5h1M536 752.5h5M547 752.5h4M728 752.5h1M760 752.5h2M771 752.5h1M933 752.5h2M958 752.5h1M1022 752.5h1M1032 752.5h5M1059 752.5h2M1097 752.5h18M55 753.5h1M62 753.5h2M109 753.5h1M118 753.5h1M159 753.5h3M178 753.5h2M328 753.5h1M339 753.5h1M366 753.5h1M533 753.5h3M541 753.5h6M729 753.5h1M758 753.5h2M762 753.5h2M771 753.5h1M935 753.5h2M941 753.5h6M957 753.5h1M1023 753.5h1M1030 753.5h2M1037 753.5h5M1058 753.5h1M1115 753.5h2M56 754.5h1M60 754.5h2M110 754.5h1M117 754.5h1M162 754.5h2M176 754.5h2M329 754.5h1M339 754.5h1M367 754.5h1M531 754.5h2M730 754.5h1M756 754.5h2M764 754.5h2M770 754.5h1M937 754.5h4M947 754.5h2M955 754.5h2M1024 754.5h1M1028 754.5h2M1042 754.5h2M1056 754.5h2M1117 754.5h3M56 755.5h1M58 755.5h2M111 755.5h1M115 755.5h2M164 755.5h2M173 755.5h3M330 755.5h2M338 755.5h1M368 755.5h1M529 755.5h2M731 755.5h1M754 755.5h2M766 755.5h2M770 755.5h1M949 755.5h3M954 755.5h1M1024 755.5h1M1026 755.5h2M1044 755.5h1M1054 755.5h2M1120 755.5h2M57 756.5h1M112 756.5h1M114 756.5h1M166 756.5h2M171 756.5h2M332 756.5h2M338 756.5h1M369 756.5h9M529 756.5h1M732 756.5h1M753 756.5h1M768 756.5h2M952 756.5h2M1025 756.5h1M1045 756.5h2M1052 756.5h2M1121 756.5h1M1447 756.5h3M113 757.5h1M168 757.5h3M334 757.5h2M337 757.5h1M378 757.5h1M528 757.5h1M733 757.5h1M751 757.5h2M1047 757.5h2M1050 757.5h2M1122 757.5h1M1443 757.5h4M1450 757.5h2M336 758.5h2M378 758.5h1M528 758.5h1M733 758.5h1M750 758.5h1M1049 758.5h1M1122 758.5h1M1441 758.5h2M1452 758.5h2M1463 758.5h3M379 759.5h1M409 759.5h1M527 759.5h1M734 759.5h1M749 759.5h1M1123 759.5h1M1440 759.5h1M1454 759.5h2M1459 759.5h4M1466 759.5h2M1509 759.5h5M379 760.5h1M408 760.5h1M410 760.5h2M527 760.5h1M735 760.5h1M747 760.5h2M1123 760.5h1M1232 760.5h2M1269 760.5h5M1440 760.5h1M1456 760.5h3M1468 760.5h1M1504 760.5h5M1514 760.5h2M380 761.5h1M407 761.5h1M412 761.5h1M526 761.5h1M736 761.5h1M746 761.5h1M1124 761.5h1M1230 761.5h2M1234 761.5h1M1265 761.5h4M1274 761.5h1M1439 761.5h1M1469 761.5h2M1489 761.5h2M1501 761.5h3M1516 761.5h1M381 762.5h1M393 762.5h1M406 762.5h1M413 762.5h2M526 762.5h1M737 762.5h9M1124 762.5h1M1228 762.5h2M1234 762.5h1M1263 762.5h2M1274 762.5h1M1439 762.5h1M1471 762.5h2M1488 762.5h1M1491 762.5h4M1499 762.5h2M1517 762.5h2M381 763.5h1M392 763.5h1M394 763.5h1M405 763.5h1M415 763.5h2M421 763.5h6M481 763.5h2M525 763.5h1M1125 763.5h1M1226 763.5h2M1235 763.5h1M1261 763.5h2M1275 763.5h1M1438 763.5h1M1473 763.5h1M1487 763.5h1M1495 763.5h4M1519 763.5h2M382 764.5h1M391 764.5h1M395 764.5h2M405 764.5h1M417 764.5h4M427 764.5h4M481 764.5h1M483 764.5h2M525 764.5h1M1125 764.5h1M1225 764.5h1M1236 764.5h1M1260 764.5h1M1275 764.5h1M1357 764.5h6M1438 764.5h1M1474 764.5h1M1486 764.5h1M1521 764.5h1M383 765.5h1M389 765.5h2M397 765.5h1M404 765.5h1M431 765.5h3M480 765.5h1M485 765.5h3M524 765.5h1M1125 765.5h1M1185 765.5h4M1224 765.5h1M1236 765.5h1M1258 765.5h2M1276 765.5h1M1328 765.5h2M1352 765.5h5M1363 765.5h2M1437 765.5h1M1475 765.5h1M1485 765.5h1M1522 765.5h1M383 766.5h1M388 766.5h1M398 766.5h1M403 766.5h1M434 766.5h1M480 766.5h1M488 766.5h3M524 766.5h1M1126 766.5h1M1169 766.5h1M1184 766.5h1M1189 766.5h6M1223 766.5h1M1237 766.5h1M1257 766.5h1M1277 766.5h1M1325 766.5h3M1330 766.5h1M1349 766.5h3M1365 766.5h3M1436 766.5h1M1476 766.5h1M1485 766.5h1M1523 766.5h1M384 767.5h1M387 767.5h1M399 767.5h2M402 767.5h1M434 767.5h1M480 767.5h1M491 767.5h4M523 767.5h1M1126 767.5h1M1168 767.5h1M1170 767.5h1M1184 767.5h1M1195 767.5h4M1222 767.5h1M1238 767.5h1M1255 767.5h2M1277 767.5h1M1323 767.5h2M1331 767.5h1M1347 767.5h2M1368 767.5h3M1436 767.5h1M1477 767.5h2M1484 767.5h1M1523 767.5h1M1617 767.5h2M384 768.5h1M386 768.5h1M401 768.5h1M435 768.5h1M480 768.5h1M495 768.5h11M523 768.5h1M1127 768.5h1M1168 768.5h1M1171 768.5h1M1183 768.5h1M1199 768.5h3M1221 768.5h1M1238 768.5h1M1254 768.5h1M1278 768.5h1M1321 768.5h2M1332 768.5h1M1345 768.5h2M1371 768.5h4M1435 768.5h1M1479 768.5h1M1483 768.5h1M1524 768.5h1M1616 768.5h1M1619 768.5h2M385 769.5h1M435 769.5h1M479 769.5h1M506 769.5h2M522 769.5h1M1127 769.5h1M1136 769.5h2M1152 769.5h2M1167 769.5h1M1171 769.5h1M1182 769.5h1M1202 769.5h2M1220 769.5h1M1239 769.5h1M1253 769.5h1M1279 769.5h1M1319 769.5h2M1333 769.5h1M1343 769.5h2M1375 769.5h6M1435 769.5h1M1480 769.5h1M1482 769.5h1M1525 769.5h1M1615 769.5h1M1621 769.5h3M436 770.5h1M479 770.5h1M508 770.5h1M522 770.5h1M1128 770.5h1M1134 770.5h2M1138 770.5h2M1150 770.5h2M1154 770.5h1M1166 770.5h1M1172 770.5h1M1181 770.5h1M1204 770.5h2M1219 770.5h1M1240 770.5h1M1251 770.5h2M1279 770.5h1M1318 770.5h1M1333 770.5h1M1342 770.5h1M1381 770.5h5M1434 770.5h1M1481 770.5h1M1526 770.5h1M1614 770.5h1M1624 770.5h2M436 771.5h1M479 771.5h1M509 771.5h2M519 771.5h3M1128 771.5h1M1132 771.5h2M1140 771.5h2M1148 771.5h2M1155 771.5h1M1166 771.5h1M1173 771.5h1M1181 771.5h1M1206 771.5h2M1218 771.5h1M1240 771.5h1M1250 771.5h1M1280 771.5h1M1305 771.5h2M1317 771.5h1M1334 771.5h1M1341 771.5h1M1386 771.5h1M1434 771.5h1M1527 771.5h1M1613 771.5h1M1626 771.5h2M437 772.5h1M478 772.5h1M511 772.5h2M515 772.5h4M1129 772.5h3M1142 772.5h2M1146 772.5h2M1156 772.5h1M1165 772.5h1M1174 772.5h1M1180 772.5h1M1208 772.5h10M1241 772.5h9M1280 772.5h1M1304 772.5h1M1307 772.5h2M1315 772.5h2M1335 772.5h1M1339 772.5h2M1387 772.5h1M1433 772.5h1M1527 772.5h1M1612 772.5h1M1628 772.5h2M1657 772.5h1M437 773.5h1M478 773.5h1M513 773.5h2M1129 773.5h1M1144 773.5h2M1157 773.5h1M1164 773.5h1M1175 773.5h1M1179 773.5h1M1281 773.5h1M1303 773.5h1M1309 773.5h3M1314 773.5h1M1336 773.5h1M1338 773.5h1M1388 773.5h1M1431 773.5h2M1528 773.5h1M1611 773.5h1M1630 773.5h2M1656 773.5h1M438 774.5h1M478 774.5h1M1157 774.5h1M1164 774.5h1M1175 774.5h1M1178 774.5h1M1282 774.5h1M1302 774.5h1M1312 774.5h2M1337 774.5h1M1389 774.5h2M1430 774.5h1M1529 774.5h2M1610 774.5h1M1632 774.5h2M1655 774.5h1M438 775.5h1M478 775.5h1M1158 775.5h1M1163 775.5h1M1176 775.5h1M1178 775.5h1M1283 775.5h1M1301 775.5h1M1391 775.5h1M1429 775.5h1M1531 775.5h4M1609 775.5h1M1634 775.5h1M1655 775.5h1M439 776.5h1M477 776.5h1M1159 776.5h1M1162 776.5h1M1177 776.5h1M1284 776.5h1M1300 776.5h1M1392 776.5h1M1427 776.5h2M1535 776.5h4M1608 776.5h1M1635 776.5h2M1654 776.5h1M439 777.5h1M477 777.5h1M1160 777.5h1M1162 777.5h1M1285 777.5h2M1299 777.5h1M1393 777.5h28M1426 777.5h1M1539 777.5h4M1549 777.5h5M1607 777.5h1M1637 777.5h1M1653 777.5h1M440 778.5h1M477 778.5h1M1161 778.5h1M1287 778.5h1M1298 778.5h1M1421 778.5h5M1543 778.5h6M1554 778.5h1M1606 778.5h1M1638 778.5h1M1652 778.5h1M440 779.5h1M476 779.5h1M1288 779.5h1M1293 779.5h5M1555 779.5h1M1605 779.5h1M1639 779.5h2M1651 779.5h1M441 780.5h1M476 780.5h1M1289 780.5h4M1556 780.5h1M1604 780.5h1M1641 780.5h2M1651 780.5h1M441 781.5h4M476 781.5h1M1557 781.5h1M1603 781.5h1M1643 781.5h4M1650 781.5h1M445 782.5h13M476 782.5h1M1558 782.5h1M1602 782.5h1M1647 782.5h3M458 783.5h1M475 783.5h1M1559 783.5h1M1600 783.5h2M459 784.5h1M475 784.5h1M1560 784.5h1M1598 784.5h2M460 785.5h1M475 785.5h1M1561 785.5h2M1596 785.5h2M461 786.5h2M474 786.5h1M1563 786.5h2M1594 786.5h2M463 787.5h1M474 787.5h1M1565 787.5h3M1593 787.5h1M464 788.5h1M474 788.5h1M1568 788.5h2M1592 788.5h1M465 789.5h2M474 789.5h1M1570 789.5h2M1591 789.5h1M467 790.5h4M473 790.5h1M1572 790.5h2M1589 790.5h2M471 791.5h3M1574 791.5h2M1588 791.5h1M1576 792.5h3M1587 792.5h1M1579 793.5h4M1586 793.5h1M1583 794.5h3" fill="none" stroke="#1e90ff" stroke-width="1"/>
<rect x="0" y="1" width="1" height="817" fill="#000"/>
<rect x="0" y="1" width="1677" height="1" fill="#000"/>
<rect x="0" y="559" width="1677" height="1" fill="#000"/>
<rect x="0" y="561" width="1677" height="1" fill="#000"/>
<rect x="0" y="698" width="1677" height="1" fill="#000"/>
<rect x="0" y="700" width="1677" height="1" fill="#000"/>
<rect x="0" y="817" width="1677" height="1" fill="#000"/>
<rect x="1676" y="1" width="1" height="559" fill="#000"/>
<rect x="1676" y="561" width="1" height="138" fill="#000"/>
<rect x="1676" y="700" width="1" height="118" fill="#000"/>
<rect x="1" y="560" width="1675" height="1" fill="#fff"/><rect x="1" y="699" width="1675" height="1" fill="#fff"/>
<rect x="1677" y="28" width="2" height="1" fill="#000"/>
<rect x="1677" y="61" width="2" height="1" fill="#000"/>
<rect x="1677" y="94" width="2" height="1" fill="#000"/>
<rect x="1677" y="127" width="2" height="1" fill="#000"/>
<rect x="1677" y="160" width="2" height="1" fill="#000"/>
<rect x="1677" y="193" width="2" height="1" fill="#000"/>
<rect x="1677" y="226" width="2" height="1" fill="#000"/>
<rect x="1677" y="259" width="2" height="1" fill="#000"/>
<rect x="1677" y="292" width="2" height="1" fill="#000"/>
<rect x="1677" y="325" width="2" height="1" fill="#000"/>
<rect x="1677" y="358" width="2" height="1" fill="#000"/>
<rect x="1677" y="391" width="2" height="1" fill="#000"/>
<rect x="1677" y="424" width="2" height="1" fill="#000"/>
<rect x="1677" y="457" width="2" height="1" fill="#000"/>
<rect x="1677" y="490" width="2" height="1" fill="#000"/>
<rect x="1677" y="523" width="2" height="1" fill="#000"/>
<rect x="1677" y="556" width="2" height="1" fill="#000"/>
<rect x="1677" y="563" width="1" height="1" fill="#000"/>
<rect x="1677" y="612" width="1" height="1" fill="#000"/>
<rect x="1677" y="697" width="1" height="1" fill="#000"/>
<rect x="1677" y="702" width="1" height="1" fill="#000"/>
<rect x="1677" y="816" width="1" height="1" fill="#000"/>
<rect x="1" y="818" width="1" height="3" fill="#000"/>
<rect x="65" y="818" width="1" height="3" fill="#000"/>
<rect x="129" y="818" width="1" height="3" fill="#000"/>
<rect x="193" y="818" width="1" height="3" fill="#000"/>
<rect x="257" y="818" width="1" height="3" fill="#000"/>
<rect x="321" y="818" width="1" height="3" fill="#000"/>
<rect x="385" y="818" width="1" height="3" fill="#000"/>
<rect x="449" y="818" width="1" height="3" fill="#000"/>
<rect x="513" y="818" width="1" height="3" fill="#000"/>
<rect x="577" y="818" width="1" height="3" fill="#000"/>
<rect x="641" y="818" width="1" height="3" fill="#000"/>
<rect x="705" y="818" width="1" height="3" fill="#000"/>
<rect x="769" y="818" width="1" height="3" fill="#000"/>
<rect x="833" y="818" width="1" height="3" fill="#000"/>
<rect x="897" y="818" width="1" height="3" fill="#000"/>
<rect x="961" y="818" width="1" height="3" fill="#000"/>
<rect x="1025" y="818" width="1" height="3" fill="#000"/>
<rect x="1089" y="818" width="1" height="3" fill="#000"/>
<rect x="1153" y="818" width="1" height="3" fill="#000"/>
<rect x="1217" y="818" width="1" height="3" fill="#000"/>
<rect x="1281" y="818" width="1" height="3" fill="#000"/>
<rect x="1345" y="818" width="1" height="3" fill="#000"/>
<rect x="1409" y="818" width="1" height="3" fill="#000"/>
<rect x="1473" y="818" width="1" height="3" fill="#000"/>
<rect x="1537" y="818" width="1" height="3" fill="#000"/>
<rect x="1601" y="818" width="1" height="3" fill="#000"/>
<rect x="0" y="838" width="1721" height="1" fill="#e6e6e6"/>
<rect x="4" y="8" width="7" height="1"/><rect x="5" y="9" width="5" height="1"/><rect x="6" y="10" width="3" height="1"/><rect x="7" y="11" width="1" height="1"/>
</g>
<text transform="translate(16 13.2) scale(0.903 1)">SP500-,H4&#160; <tspan dx="1.8">4330.000 4360.250 4321.000 4357.500</tspan></text>
<text transform="translate(5.5 574.2) scale(0.918 1)">MACD(12,26,9) -26.8761 -27.8578</text>
<text transform="translate(5.5 713.3) scale(0.903 1)">RSI(14) 39.7137</text>
<text transform="translate(1682 32) scale(0.903 1)">4548.770</text>
<text transform="translate(1682 65) scale(0.903 1)">4532.600</text>
<text transform="translate(1682 98) scale(0.903 1)">4516.430</text>
<text transform="translate(1682 131) scale(0.903 1)">4500.260</text>
<text transform="translate(1682 164) scale(0.903 1)">4483.600</text>
<text transform="translate(1682 197) scale(0.903 1)">4467.430</text>
<text transform="translate(1682 230) scale(0.903 1)">4451.260</text>
<text transform="translate(1682 263) scale(0.903 1)">4435.090</text>
<text transform="translate(1682 296) scale(0.903 1)">4418.430</text>
<text transform="translate(1682 329) scale(0.903 1)">4402.260</text>
<text transform="translate(1682 362) scale(0.903 1)">4386.090</text>
<text transform="translate(1682 395) scale(0.903 1)">4369.920</text>
<text transform="translate(1682 428) scale(0.903 1)">4353.260</text>
<text transform="translate(1682 461) scale(0.903 1)">4337.090</text>
<text transform="translate(1682 527) scale(0.903 1)">4304.750</text>
<text transform="translate(1682 560) scale(0.903 1)">4288.580</text>
<text transform="translate(1680.5 572) scale(0.903 1)">19.5499</text>
<text transform="translate(1680 616) scale(0.903 1)">0.00</text>
<text transform="translate(1680 695) scale(0.903 1)">-33.4394</text>
<text transform="translate(1680.5 711) scale(0.903 1)">100</text>
<text transform="translate(1680 740) scale(0.903 1)">70</text>
<text transform="translate(1680 786) scale(0.903 1)">30</text>
<text transform="translate(1680 814) scale(0.903 1)">0</text>
<text transform="translate(1 830) scale(0.903 1)">5 Aug 2021</text>
<text transform="translate(64.5 830) scale(0.903 1)">9 Aug 00:00</text>
<text transform="translate(128.5 830) scale(0.903 1)">10 Aug 08:00</text>
<text transform="translate(192.5 830) scale(0.903 1)">11 Aug 16:00</text>
<text transform="translate(256.5 830) scale(0.903 1)">13 Aug 00:00</text>
<text transform="translate(320.5 830) scale(0.903 1)">16 Aug 04:00</text>
<text transform="translate(384.5 830) scale(0.903 1)">17 Aug 12:00</text>
<text transform="translate(448.5 830) scale(0.903 1)">18 Aug 20:00</text>
<text transform="translate(512.5 830) scale(0.903 1)">20 Aug 04:00</text>
<text transform="translate(576.5 830) scale(0.903 1)">23 Aug 08:00</text>
<text transform="translate(640.5 830) scale(0.903 1)">24 Aug 16:00</text>
<text transform="translate(704.5 830) scale(0.903 1)">26 Aug 00:00</text>
<text transform="translate(768.5 830) scale(0.903 1)">27 Aug 08:00</text>
<text transform="translate(832.5 830) scale(0.903 1)">30 Aug 12:00</text>
<text transform="translate(896.5 830) scale(0.903 1)">31 Aug 20:00</text>
<text transform="translate(960.5 830) scale(0.903 1)">2 Sep 04:00</text>
<text transform="translate(1024.5 830) scale(0.903 1)">3 Sep 12:00</text>
<text transform="translate(1088.5 830) scale(0.903 1)">6 Sep 16:00</text>
<text transform="translate(1152.5 830) scale(0.903 1)">8 Sep 00:00</text>
<text transform="translate(1216.5 830) scale(0.903 1)">9 Sep 04:00</text>
<text transform="translate(1280.5 830) scale(0.903 1)">10 Sep 12:00</text>
<text transform="translate(1344.5 830) scale(0.903 1)">13 Sep 16:00</text>
<text transform="translate(1408.5 830) scale(0.903 1)">15 Sep 00:00</text>
<text transform="translate(1472.5 830) scale(0.903 1)">16 Sep 08:00</text>
<text transform="translate(1536.5 830) scale(0.903 1)">17 Sep 16:00</text>
<text transform="translate(1600.5 830) scale(0.903 1)">20 Sep 20:00</text>
<rect x="1678" y="172" width="43" height="11" fill="#ff0000" shape-rendering="crispEdges"/>
<text transform="translate(1682 182) scale(0.903 1)" class="w">4475.000</text>
<rect x="1678" y="273" width="43" height="11" fill="#ff0000" shape-rendering="crispEdges"/>
<text transform="translate(1682 283) scale(0.903 1)" class="w">4425.000</text>
<rect x="1678" y="374" width="43" height="11" fill="#32cd32" shape-rendering="crispEdges"/>
<text transform="translate(1682 384) scale(0.903 1)" class="w">4375.000</text>
<rect x="1678" y="486" width="43" height="11" fill="#4169e1" shape-rendering="crispEdges"/>
<text transform="translate(1682 496) scale(0.903 1)" class="w">4320.000</text>
<rect x="1678" y="411" width="43" height="11" fill="#000" shape-rendering="crispEdges"/>
<text transform="translate(1682 421) scale(0.903 1)" class="w">4357.500</text>
<text x="937.8" y="462" class="cn">多空转折点4375</text>
</svg></body></html>
